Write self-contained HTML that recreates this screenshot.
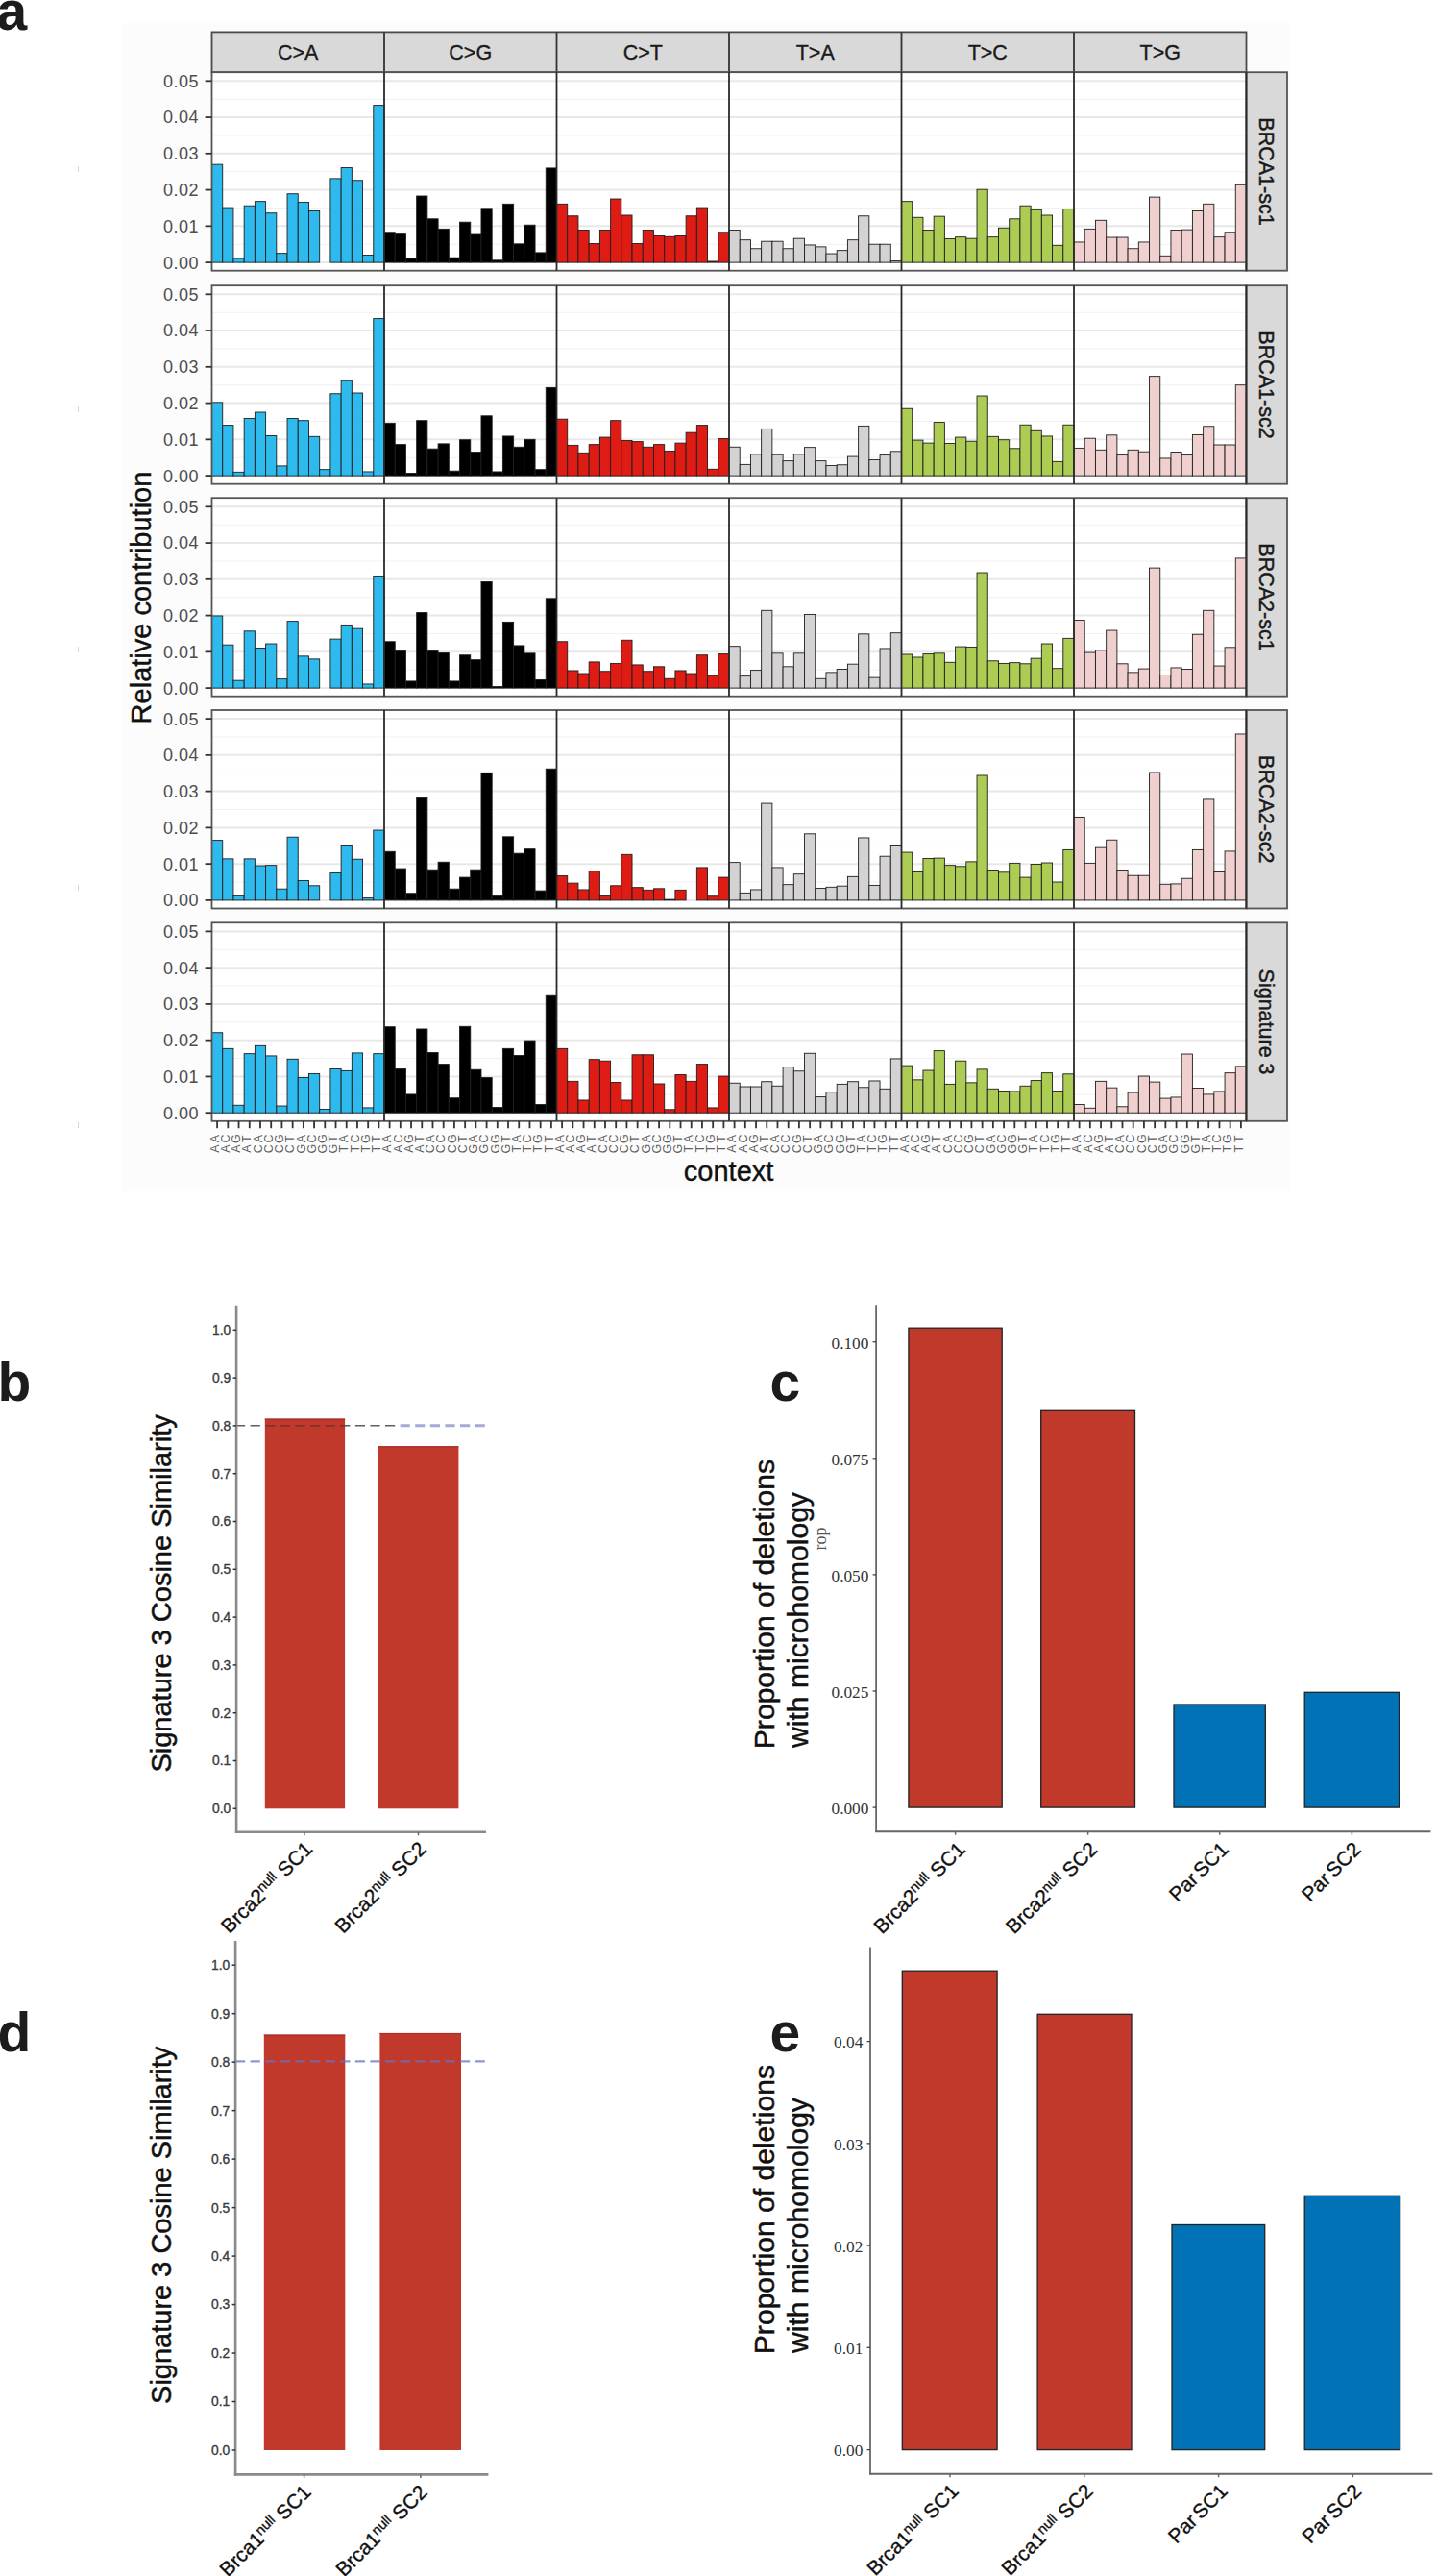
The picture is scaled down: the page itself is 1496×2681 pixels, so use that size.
<!DOCTYPE html>
<html><head><meta charset="utf-8"><title>Figure</title>
<style>
html,body{margin:0;padding:0;background:#fff;}
body{width:1496px;height:2681px;overflow:hidden;font-family:"Liberation Sans",sans-serif;}
svg{display:block;}
</style></head>
<body>
<svg width="1496" height="2681" viewBox="0 0 1496 2681">
<rect x="0" y="0" width="1496" height="2681" fill="#ffffff"/>
<rect x="127.8" y="24" width="1215" height="1216" fill="#fcfcfc"/>
<line x1="81.5" y1="173" x2="81.5" y2="179" stroke="#d4d4d4" stroke-width="1"/>
<line x1="81.5" y1="423" x2="81.5" y2="429" stroke="#d4d4d4" stroke-width="1"/>
<line x1="81.5" y1="673" x2="81.5" y2="679" stroke="#d4d4d4" stroke-width="1"/>
<line x1="81.5" y1="921" x2="81.5" y2="927" stroke="#d4d4d4" stroke-width="1"/>
<line x1="81.5" y1="1168" x2="81.5" y2="1174" stroke="#d4d4d4" stroke-width="1"/>
<text x="-3.5" y="30.6" font-family="Liberation Sans" font-weight="bold" font-size="57" fill="#1c1c1c">a</text>
<rect x="220.5" y="33.4" width="1077" height="41.8" fill="#d9d9d9" stroke="#4a4a4a" stroke-width="1.8"/>
<text x="310.25" y="61.6" text-anchor="middle" font-family="Liberation Sans" font-size="21.5" fill="#1a1a1a" stroke="#1a1a1a" stroke-width="0.35">C&gt;A</text>
<text x="489.75" y="61.6" text-anchor="middle" font-family="Liberation Sans" font-size="21.5" fill="#1a1a1a" stroke="#1a1a1a" stroke-width="0.35">C&gt;G</text>
<line x1="400" y1="33.4" x2="400" y2="75.2" stroke="#333" stroke-width="1.8"/>
<text x="669.25" y="61.6" text-anchor="middle" font-family="Liberation Sans" font-size="21.5" fill="#1a1a1a" stroke="#1a1a1a" stroke-width="0.35">C&gt;T</text>
<line x1="579.5" y1="33.4" x2="579.5" y2="75.2" stroke="#333" stroke-width="1.8"/>
<text x="848.75" y="61.6" text-anchor="middle" font-family="Liberation Sans" font-size="21.5" fill="#1a1a1a" stroke="#1a1a1a" stroke-width="0.35">T&gt;A</text>
<line x1="759" y1="33.4" x2="759" y2="75.2" stroke="#333" stroke-width="1.8"/>
<text x="1028.25" y="61.6" text-anchor="middle" font-family="Liberation Sans" font-size="21.5" fill="#1a1a1a" stroke="#1a1a1a" stroke-width="0.35">T&gt;C</text>
<line x1="938.5" y1="33.4" x2="938.5" y2="75.2" stroke="#333" stroke-width="1.8"/>
<text x="1207.75" y="61.6" text-anchor="middle" font-family="Liberation Sans" font-size="21.5" fill="#1a1a1a" stroke="#1a1a1a" stroke-width="0.35">T&gt;G</text>
<line x1="1118" y1="33.4" x2="1118" y2="75.2" stroke="#333" stroke-width="1.8"/>
<rect x="220.5" y="75.2" width="1077" height="206.5" fill="#ffffff"/>
<line x1="220.5" y1="273.1" x2="1297.5" y2="273.1" stroke="#e8e8e8" stroke-width="2"/>
<line x1="220.5" y1="254.22" x2="1297.5" y2="254.22" stroke="#f1f1f1" stroke-width="1.1"/>
<line x1="220.5" y1="235.34" x2="1297.5" y2="235.34" stroke="#e8e8e8" stroke-width="2"/>
<line x1="220.5" y1="216.46" x2="1297.5" y2="216.46" stroke="#f1f1f1" stroke-width="1.1"/>
<line x1="220.5" y1="197.58" x2="1297.5" y2="197.58" stroke="#e8e8e8" stroke-width="2"/>
<line x1="220.5" y1="178.7" x2="1297.5" y2="178.7" stroke="#f1f1f1" stroke-width="1.1"/>
<line x1="220.5" y1="159.82" x2="1297.5" y2="159.82" stroke="#e8e8e8" stroke-width="2"/>
<line x1="220.5" y1="140.94" x2="1297.5" y2="140.94" stroke="#f1f1f1" stroke-width="1.1"/>
<line x1="220.5" y1="122.06" x2="1297.5" y2="122.06" stroke="#e8e8e8" stroke-width="2"/>
<line x1="220.5" y1="103.18" x2="1297.5" y2="103.18" stroke="#f1f1f1" stroke-width="1.1"/>
<line x1="220.5" y1="84.3" x2="1297.5" y2="84.3" stroke="#e8e8e8" stroke-width="2"/>
<rect x="220.5" y="171.15" width="11.22" height="101.95" fill="#2EBAED" stroke="#1e1e1e" stroke-width="0.9"/>
<rect x="231.72" y="216.08" width="11.22" height="57.02" fill="#2EBAED" stroke="#1e1e1e" stroke-width="0.9"/>
<rect x="242.94" y="268.95" width="11.22" height="4.15" fill="#2EBAED" stroke="#1e1e1e" stroke-width="0.9"/>
<rect x="254.16" y="214.19" width="11.22" height="58.91" fill="#2EBAED" stroke="#1e1e1e" stroke-width="0.9"/>
<rect x="265.38" y="209.66" width="11.22" height="63.44" fill="#2EBAED" stroke="#1e1e1e" stroke-width="0.9"/>
<rect x="276.59" y="221.75" width="11.22" height="51.35" fill="#2EBAED" stroke="#1e1e1e" stroke-width="0.9"/>
<rect x="287.81" y="263.66" width="11.22" height="9.44" fill="#2EBAED" stroke="#1e1e1e" stroke-width="0.9"/>
<rect x="299.03" y="201.73" width="11.22" height="71.37" fill="#2EBAED" stroke="#1e1e1e" stroke-width="0.9"/>
<rect x="310.25" y="210.42" width="11.22" height="62.68" fill="#2EBAED" stroke="#1e1e1e" stroke-width="0.9"/>
<rect x="321.47" y="219.48" width="11.22" height="53.62" fill="#2EBAED" stroke="#1e1e1e" stroke-width="0.9"/>
<rect x="343.91" y="185.87" width="11.22" height="87.23" fill="#2EBAED" stroke="#1e1e1e" stroke-width="0.9"/>
<rect x="355.12" y="174.55" width="11.22" height="98.55" fill="#2EBAED" stroke="#1e1e1e" stroke-width="0.9"/>
<rect x="366.34" y="187.76" width="11.22" height="85.34" fill="#2EBAED" stroke="#1e1e1e" stroke-width="0.9"/>
<rect x="377.56" y="265.55" width="11.22" height="7.55" fill="#2EBAED" stroke="#1e1e1e" stroke-width="0.9"/>
<rect x="388.78" y="109.6" width="11.22" height="163.5" fill="#2EBAED" stroke="#1e1e1e" stroke-width="0.9"/>
<rect x="400" y="241.76" width="11.22" height="31.34" fill="#000000" stroke="#1e1e1e" stroke-width="0.9"/>
<rect x="411.22" y="243.65" width="11.22" height="29.45" fill="#000000" stroke="#1e1e1e" stroke-width="0.9"/>
<rect x="422.44" y="268.95" width="11.22" height="4.15" fill="#000000" stroke="#1e1e1e" stroke-width="0.9"/>
<rect x="433.66" y="204" width="11.22" height="69.1" fill="#000000" stroke="#1e1e1e" stroke-width="0.9"/>
<rect x="444.88" y="227.79" width="11.22" height="45.31" fill="#000000" stroke="#1e1e1e" stroke-width="0.9"/>
<rect x="456.09" y="238.36" width="11.22" height="34.74" fill="#000000" stroke="#1e1e1e" stroke-width="0.9"/>
<rect x="467.31" y="268.19" width="11.22" height="4.91" fill="#000000" stroke="#1e1e1e" stroke-width="0.9"/>
<rect x="478.53" y="231.19" width="11.22" height="41.91" fill="#000000" stroke="#1e1e1e" stroke-width="0.9"/>
<rect x="489.75" y="244.02" width="11.22" height="29.08" fill="#000000" stroke="#1e1e1e" stroke-width="0.9"/>
<rect x="500.97" y="216.84" width="11.22" height="56.26" fill="#000000" stroke="#1e1e1e" stroke-width="0.9"/>
<rect x="512.19" y="270.83" width="11.22" height="2.27" fill="#000000" stroke="#1e1e1e" stroke-width="0.9"/>
<rect x="523.41" y="212.31" width="11.22" height="60.79" fill="#000000" stroke="#1e1e1e" stroke-width="0.9"/>
<rect x="534.62" y="253.84" width="11.22" height="19.26" fill="#000000" stroke="#1e1e1e" stroke-width="0.9"/>
<rect x="545.84" y="234.21" width="11.22" height="38.89" fill="#000000" stroke="#1e1e1e" stroke-width="0.9"/>
<rect x="557.06" y="262.9" width="11.22" height="10.2" fill="#000000" stroke="#1e1e1e" stroke-width="0.9"/>
<rect x="568.28" y="174.92" width="11.22" height="98.18" fill="#000000" stroke="#1e1e1e" stroke-width="0.9"/>
<rect x="579.5" y="212.31" width="11.22" height="60.79" fill="#DE1C14" stroke="#1e1e1e" stroke-width="0.9"/>
<rect x="590.72" y="224.77" width="11.22" height="48.33" fill="#DE1C14" stroke="#1e1e1e" stroke-width="0.9"/>
<rect x="601.94" y="239.49" width="11.22" height="33.61" fill="#DE1C14" stroke="#1e1e1e" stroke-width="0.9"/>
<rect x="613.16" y="253.46" width="11.22" height="19.64" fill="#DE1C14" stroke="#1e1e1e" stroke-width="0.9"/>
<rect x="624.38" y="239.49" width="11.22" height="33.61" fill="#DE1C14" stroke="#1e1e1e" stroke-width="0.9"/>
<rect x="635.59" y="207.02" width="11.22" height="66.08" fill="#DE1C14" stroke="#1e1e1e" stroke-width="0.9"/>
<rect x="646.81" y="224.01" width="11.22" height="49.09" fill="#DE1C14" stroke="#1e1e1e" stroke-width="0.9"/>
<rect x="658.03" y="253.46" width="11.22" height="19.64" fill="#DE1C14" stroke="#1e1e1e" stroke-width="0.9"/>
<rect x="669.25" y="239.49" width="11.22" height="33.61" fill="#DE1C14" stroke="#1e1e1e" stroke-width="0.9"/>
<rect x="680.47" y="245.54" width="11.22" height="27.56" fill="#DE1C14" stroke="#1e1e1e" stroke-width="0.9"/>
<rect x="691.69" y="246.29" width="11.22" height="26.81" fill="#DE1C14" stroke="#1e1e1e" stroke-width="0.9"/>
<rect x="702.91" y="245.54" width="11.22" height="27.56" fill="#DE1C14" stroke="#1e1e1e" stroke-width="0.9"/>
<rect x="714.12" y="224.77" width="11.22" height="48.33" fill="#DE1C14" stroke="#1e1e1e" stroke-width="0.9"/>
<rect x="725.34" y="216.08" width="11.22" height="57.02" fill="#DE1C14" stroke="#1e1e1e" stroke-width="0.9"/>
<rect x="736.56" y="271.97" width="11.22" height="1.13" fill="#DE1C14" stroke="#1e1e1e" stroke-width="0.9"/>
<rect x="747.78" y="241.76" width="11.22" height="31.34" fill="#DE1C14" stroke="#1e1e1e" stroke-width="0.9"/>
<rect x="759" y="239.49" width="11.22" height="33.61" fill="#D4D2D2" stroke="#1e1e1e" stroke-width="0.9"/>
<rect x="770.22" y="249.69" width="11.22" height="23.41" fill="#D4D2D2" stroke="#1e1e1e" stroke-width="0.9"/>
<rect x="781.44" y="258.75" width="11.22" height="14.35" fill="#D4D2D2" stroke="#1e1e1e" stroke-width="0.9"/>
<rect x="792.66" y="251.2" width="11.22" height="21.9" fill="#D4D2D2" stroke="#1e1e1e" stroke-width="0.9"/>
<rect x="803.88" y="251.2" width="11.22" height="21.9" fill="#D4D2D2" stroke="#1e1e1e" stroke-width="0.9"/>
<rect x="815.09" y="258.75" width="11.22" height="14.35" fill="#D4D2D2" stroke="#1e1e1e" stroke-width="0.9"/>
<rect x="826.31" y="248.18" width="11.22" height="24.92" fill="#D4D2D2" stroke="#1e1e1e" stroke-width="0.9"/>
<rect x="837.53" y="254.98" width="11.22" height="18.12" fill="#D4D2D2" stroke="#1e1e1e" stroke-width="0.9"/>
<rect x="848.75" y="256.86" width="11.22" height="16.24" fill="#D4D2D2" stroke="#1e1e1e" stroke-width="0.9"/>
<rect x="859.97" y="264.04" width="11.22" height="9.06" fill="#D4D2D2" stroke="#1e1e1e" stroke-width="0.9"/>
<rect x="871.19" y="260.64" width="11.22" height="12.46" fill="#D4D2D2" stroke="#1e1e1e" stroke-width="0.9"/>
<rect x="882.41" y="249.69" width="11.22" height="23.41" fill="#D4D2D2" stroke="#1e1e1e" stroke-width="0.9"/>
<rect x="893.62" y="224.77" width="11.22" height="48.33" fill="#D4D2D2" stroke="#1e1e1e" stroke-width="0.9"/>
<rect x="904.84" y="254.22" width="11.22" height="18.88" fill="#D4D2D2" stroke="#1e1e1e" stroke-width="0.9"/>
<rect x="916.06" y="254.22" width="11.22" height="18.88" fill="#D4D2D2" stroke="#1e1e1e" stroke-width="0.9"/>
<rect x="927.28" y="271.59" width="11.22" height="1.51" fill="#D4D2D2" stroke="#1e1e1e" stroke-width="0.9"/>
<rect x="938.5" y="209.66" width="11.22" height="63.44" fill="#ADCC54" stroke="#1e1e1e" stroke-width="0.9"/>
<rect x="949.72" y="226.28" width="11.22" height="46.82" fill="#ADCC54" stroke="#1e1e1e" stroke-width="0.9"/>
<rect x="960.94" y="239.49" width="11.22" height="33.61" fill="#ADCC54" stroke="#1e1e1e" stroke-width="0.9"/>
<rect x="972.16" y="225.14" width="11.22" height="47.96" fill="#ADCC54" stroke="#1e1e1e" stroke-width="0.9"/>
<rect x="983.38" y="248.56" width="11.22" height="24.54" fill="#ADCC54" stroke="#1e1e1e" stroke-width="0.9"/>
<rect x="994.59" y="246.67" width="11.22" height="26.43" fill="#ADCC54" stroke="#1e1e1e" stroke-width="0.9"/>
<rect x="1005.81" y="248.18" width="11.22" height="24.92" fill="#ADCC54" stroke="#1e1e1e" stroke-width="0.9"/>
<rect x="1017.03" y="197.2" width="11.22" height="75.9" fill="#ADCC54" stroke="#1e1e1e" stroke-width="0.9"/>
<rect x="1028.25" y="246.67" width="11.22" height="26.43" fill="#ADCC54" stroke="#1e1e1e" stroke-width="0.9"/>
<rect x="1039.47" y="237.23" width="11.22" height="35.87" fill="#ADCC54" stroke="#1e1e1e" stroke-width="0.9"/>
<rect x="1050.69" y="227.79" width="11.22" height="45.31" fill="#ADCC54" stroke="#1e1e1e" stroke-width="0.9"/>
<rect x="1061.91" y="214.19" width="11.22" height="58.91" fill="#ADCC54" stroke="#1e1e1e" stroke-width="0.9"/>
<rect x="1073.12" y="218.35" width="11.22" height="54.75" fill="#ADCC54" stroke="#1e1e1e" stroke-width="0.9"/>
<rect x="1084.34" y="224.01" width="11.22" height="49.09" fill="#ADCC54" stroke="#1e1e1e" stroke-width="0.9"/>
<rect x="1095.56" y="255.35" width="11.22" height="17.75" fill="#ADCC54" stroke="#1e1e1e" stroke-width="0.9"/>
<rect x="1106.78" y="217.59" width="11.22" height="55.51" fill="#ADCC54" stroke="#1e1e1e" stroke-width="0.9"/>
<rect x="1118" y="251.95" width="11.22" height="21.15" fill="#F0D0CE" stroke="#1e1e1e" stroke-width="0.9"/>
<rect x="1129.22" y="238.36" width="11.22" height="34.74" fill="#F0D0CE" stroke="#1e1e1e" stroke-width="0.9"/>
<rect x="1140.44" y="229.3" width="11.22" height="43.8" fill="#F0D0CE" stroke="#1e1e1e" stroke-width="0.9"/>
<rect x="1151.66" y="247.05" width="11.22" height="26.05" fill="#F0D0CE" stroke="#1e1e1e" stroke-width="0.9"/>
<rect x="1162.88" y="247.05" width="11.22" height="26.05" fill="#F0D0CE" stroke="#1e1e1e" stroke-width="0.9"/>
<rect x="1174.09" y="258.75" width="11.22" height="14.35" fill="#F0D0CE" stroke="#1e1e1e" stroke-width="0.9"/>
<rect x="1185.31" y="251.95" width="11.22" height="21.15" fill="#F0D0CE" stroke="#1e1e1e" stroke-width="0.9"/>
<rect x="1196.53" y="205.13" width="11.22" height="67.97" fill="#F0D0CE" stroke="#1e1e1e" stroke-width="0.9"/>
<rect x="1207.75" y="266.3" width="11.22" height="6.8" fill="#F0D0CE" stroke="#1e1e1e" stroke-width="0.9"/>
<rect x="1218.97" y="239.49" width="11.22" height="33.61" fill="#F0D0CE" stroke="#1e1e1e" stroke-width="0.9"/>
<rect x="1230.19" y="239.12" width="11.22" height="33.98" fill="#F0D0CE" stroke="#1e1e1e" stroke-width="0.9"/>
<rect x="1241.41" y="219.48" width="11.22" height="53.62" fill="#F0D0CE" stroke="#1e1e1e" stroke-width="0.9"/>
<rect x="1252.62" y="212.31" width="11.22" height="60.79" fill="#F0D0CE" stroke="#1e1e1e" stroke-width="0.9"/>
<rect x="1263.84" y="246.67" width="11.22" height="26.43" fill="#F0D0CE" stroke="#1e1e1e" stroke-width="0.9"/>
<rect x="1275.06" y="241.76" width="11.22" height="31.34" fill="#F0D0CE" stroke="#1e1e1e" stroke-width="0.9"/>
<rect x="1286.28" y="192.29" width="11.22" height="80.81" fill="#F0D0CE" stroke="#1e1e1e" stroke-width="0.9"/>
<rect x="220.5" y="75.2" width="1077" height="206.5" fill="none" stroke="#555" stroke-width="1.8"/>
<line x1="400" y1="75.2" x2="400" y2="281.7" stroke="#2a2a2a" stroke-width="1.8"/>
<line x1="579.5" y1="75.2" x2="579.5" y2="281.7" stroke="#2a2a2a" stroke-width="1.8"/>
<line x1="759" y1="75.2" x2="759" y2="281.7" stroke="#2a2a2a" stroke-width="1.8"/>
<line x1="938.5" y1="75.2" x2="938.5" y2="281.7" stroke="#2a2a2a" stroke-width="1.8"/>
<line x1="1118" y1="75.2" x2="1118" y2="281.7" stroke="#2a2a2a" stroke-width="1.8"/>
<rect x="1297.5" y="75.2" width="42.5" height="206.5" fill="#d9d9d9" stroke="#555" stroke-width="1.8"/>
<line x1="1297.5" y1="75.2" x2="1297.5" y2="281.7" stroke="#2a2a2a" stroke-width="1.8"/>
<text transform="translate(1311.2,178.45) rotate(90)" text-anchor="middle" font-family="Liberation Sans" font-size="21.5" fill="#1a1a1a" stroke="#1a1a1a" stroke-width="0.45">BRCA1-sc1</text>
<line x1="213.6" y1="273.1" x2="220.5" y2="273.1" stroke="#333" stroke-width="1.8"/>
<text x="207" y="279.5" text-anchor="end" font-family="Liberation Sans" font-size="18" letter-spacing="0.5" fill="#4d4d4d">0.00</text>
<line x1="213.6" y1="235.34" x2="220.5" y2="235.34" stroke="#333" stroke-width="1.8"/>
<text x="207" y="241.74" text-anchor="end" font-family="Liberation Sans" font-size="18" letter-spacing="0.5" fill="#4d4d4d">0.01</text>
<line x1="213.6" y1="197.58" x2="220.5" y2="197.58" stroke="#333" stroke-width="1.8"/>
<text x="207" y="203.98" text-anchor="end" font-family="Liberation Sans" font-size="18" letter-spacing="0.5" fill="#4d4d4d">0.02</text>
<line x1="213.6" y1="159.82" x2="220.5" y2="159.82" stroke="#333" stroke-width="1.8"/>
<text x="207" y="166.22" text-anchor="end" font-family="Liberation Sans" font-size="18" letter-spacing="0.5" fill="#4d4d4d">0.03</text>
<line x1="213.6" y1="122.06" x2="220.5" y2="122.06" stroke="#333" stroke-width="1.8"/>
<text x="207" y="128.46" text-anchor="end" font-family="Liberation Sans" font-size="18" letter-spacing="0.5" fill="#4d4d4d">0.04</text>
<line x1="213.6" y1="84.3" x2="220.5" y2="84.3" stroke="#333" stroke-width="1.8"/>
<text x="207" y="90.7" text-anchor="end" font-family="Liberation Sans" font-size="18" letter-spacing="0.5" fill="#4d4d4d">0.05</text>
<rect x="220.5" y="297.2" width="1077" height="206.5" fill="#ffffff"/>
<line x1="220.5" y1="495.1" x2="1297.5" y2="495.1" stroke="#e8e8e8" stroke-width="2"/>
<line x1="220.5" y1="476.22" x2="1297.5" y2="476.22" stroke="#f1f1f1" stroke-width="1.1"/>
<line x1="220.5" y1="457.34" x2="1297.5" y2="457.34" stroke="#e8e8e8" stroke-width="2"/>
<line x1="220.5" y1="438.46" x2="1297.5" y2="438.46" stroke="#f1f1f1" stroke-width="1.1"/>
<line x1="220.5" y1="419.58" x2="1297.5" y2="419.58" stroke="#e8e8e8" stroke-width="2"/>
<line x1="220.5" y1="400.7" x2="1297.5" y2="400.7" stroke="#f1f1f1" stroke-width="1.1"/>
<line x1="220.5" y1="381.82" x2="1297.5" y2="381.82" stroke="#e8e8e8" stroke-width="2"/>
<line x1="220.5" y1="362.94" x2="1297.5" y2="362.94" stroke="#f1f1f1" stroke-width="1.1"/>
<line x1="220.5" y1="344.06" x2="1297.5" y2="344.06" stroke="#e8e8e8" stroke-width="2"/>
<line x1="220.5" y1="325.18" x2="1297.5" y2="325.18" stroke="#f1f1f1" stroke-width="1.1"/>
<line x1="220.5" y1="306.3" x2="1297.5" y2="306.3" stroke="#e8e8e8" stroke-width="2"/>
<rect x="220.5" y="418.82" width="11.22" height="76.28" fill="#2EBAED" stroke="#1e1e1e" stroke-width="0.9"/>
<rect x="231.72" y="442.61" width="11.22" height="52.49" fill="#2EBAED" stroke="#1e1e1e" stroke-width="0.9"/>
<rect x="242.94" y="491.32" width="11.22" height="3.78" fill="#2EBAED" stroke="#1e1e1e" stroke-width="0.9"/>
<rect x="254.16" y="435.44" width="11.22" height="59.66" fill="#2EBAED" stroke="#1e1e1e" stroke-width="0.9"/>
<rect x="265.38" y="429.02" width="11.22" height="66.08" fill="#2EBAED" stroke="#1e1e1e" stroke-width="0.9"/>
<rect x="276.59" y="453.56" width="11.22" height="41.54" fill="#2EBAED" stroke="#1e1e1e" stroke-width="0.9"/>
<rect x="287.81" y="484.9" width="11.22" height="10.2" fill="#2EBAED" stroke="#1e1e1e" stroke-width="0.9"/>
<rect x="299.03" y="435.44" width="11.22" height="59.66" fill="#2EBAED" stroke="#1e1e1e" stroke-width="0.9"/>
<rect x="310.25" y="437.7" width="11.22" height="57.4" fill="#2EBAED" stroke="#1e1e1e" stroke-width="0.9"/>
<rect x="321.47" y="454.32" width="11.22" height="40.78" fill="#2EBAED" stroke="#1e1e1e" stroke-width="0.9"/>
<rect x="332.69" y="488.68" width="11.22" height="6.42" fill="#2EBAED" stroke="#1e1e1e" stroke-width="0.9"/>
<rect x="343.91" y="409.76" width="11.22" height="85.34" fill="#2EBAED" stroke="#1e1e1e" stroke-width="0.9"/>
<rect x="355.12" y="396.17" width="11.22" height="98.93" fill="#2EBAED" stroke="#1e1e1e" stroke-width="0.9"/>
<rect x="366.34" y="409.01" width="11.22" height="86.09" fill="#2EBAED" stroke="#1e1e1e" stroke-width="0.9"/>
<rect x="377.56" y="490.95" width="11.22" height="4.15" fill="#2EBAED" stroke="#1e1e1e" stroke-width="0.9"/>
<rect x="388.78" y="331.6" width="11.22" height="163.5" fill="#2EBAED" stroke="#1e1e1e" stroke-width="0.9"/>
<rect x="400" y="440.35" width="11.22" height="54.75" fill="#000000" stroke="#1e1e1e" stroke-width="0.9"/>
<rect x="411.22" y="462.63" width="11.22" height="32.47" fill="#000000" stroke="#1e1e1e" stroke-width="0.9"/>
<rect x="422.44" y="492.46" width="11.22" height="2.64" fill="#000000" stroke="#1e1e1e" stroke-width="0.9"/>
<rect x="433.66" y="437.7" width="11.22" height="57.4" fill="#000000" stroke="#1e1e1e" stroke-width="0.9"/>
<rect x="444.88" y="467.16" width="11.22" height="27.94" fill="#000000" stroke="#1e1e1e" stroke-width="0.9"/>
<rect x="456.09" y="461.87" width="11.22" height="33.23" fill="#000000" stroke="#1e1e1e" stroke-width="0.9"/>
<rect x="467.31" y="490.19" width="11.22" height="4.91" fill="#000000" stroke="#1e1e1e" stroke-width="0.9"/>
<rect x="478.53" y="457.72" width="11.22" height="37.38" fill="#000000" stroke="#1e1e1e" stroke-width="0.9"/>
<rect x="489.75" y="470.56" width="11.22" height="24.54" fill="#000000" stroke="#1e1e1e" stroke-width="0.9"/>
<rect x="500.97" y="432.8" width="11.22" height="62.3" fill="#000000" stroke="#1e1e1e" stroke-width="0.9"/>
<rect x="512.19" y="490.95" width="11.22" height="4.15" fill="#000000" stroke="#1e1e1e" stroke-width="0.9"/>
<rect x="523.41" y="453.94" width="11.22" height="41.16" fill="#000000" stroke="#1e1e1e" stroke-width="0.9"/>
<rect x="534.62" y="465.27" width="11.22" height="29.83" fill="#000000" stroke="#1e1e1e" stroke-width="0.9"/>
<rect x="545.84" y="457.34" width="11.22" height="37.76" fill="#000000" stroke="#1e1e1e" stroke-width="0.9"/>
<rect x="557.06" y="488.68" width="11.22" height="6.42" fill="#000000" stroke="#1e1e1e" stroke-width="0.9"/>
<rect x="568.28" y="403.34" width="11.22" height="91.76" fill="#000000" stroke="#1e1e1e" stroke-width="0.9"/>
<rect x="579.5" y="436.19" width="11.22" height="58.91" fill="#DE1C14" stroke="#1e1e1e" stroke-width="0.9"/>
<rect x="590.72" y="463.38" width="11.22" height="31.72" fill="#DE1C14" stroke="#1e1e1e" stroke-width="0.9"/>
<rect x="601.94" y="471.31" width="11.22" height="23.79" fill="#DE1C14" stroke="#1e1e1e" stroke-width="0.9"/>
<rect x="613.16" y="462.63" width="11.22" height="32.47" fill="#DE1C14" stroke="#1e1e1e" stroke-width="0.9"/>
<rect x="624.38" y="455.07" width="11.22" height="40.03" fill="#DE1C14" stroke="#1e1e1e" stroke-width="0.9"/>
<rect x="635.59" y="437.7" width="11.22" height="57.4" fill="#DE1C14" stroke="#1e1e1e" stroke-width="0.9"/>
<rect x="646.81" y="458.47" width="11.22" height="36.63" fill="#DE1C14" stroke="#1e1e1e" stroke-width="0.9"/>
<rect x="658.03" y="459.61" width="11.22" height="35.49" fill="#DE1C14" stroke="#1e1e1e" stroke-width="0.9"/>
<rect x="669.25" y="465.27" width="11.22" height="29.83" fill="#DE1C14" stroke="#1e1e1e" stroke-width="0.9"/>
<rect x="680.47" y="462.63" width="11.22" height="32.47" fill="#DE1C14" stroke="#1e1e1e" stroke-width="0.9"/>
<rect x="691.69" y="469.42" width="11.22" height="25.68" fill="#DE1C14" stroke="#1e1e1e" stroke-width="0.9"/>
<rect x="702.91" y="461.12" width="11.22" height="33.98" fill="#DE1C14" stroke="#1e1e1e" stroke-width="0.9"/>
<rect x="714.12" y="450.17" width="11.22" height="44.93" fill="#DE1C14" stroke="#1e1e1e" stroke-width="0.9"/>
<rect x="725.34" y="442.61" width="11.22" height="52.49" fill="#DE1C14" stroke="#1e1e1e" stroke-width="0.9"/>
<rect x="736.56" y="488.3" width="11.22" height="6.8" fill="#DE1C14" stroke="#1e1e1e" stroke-width="0.9"/>
<rect x="747.78" y="456.58" width="11.22" height="38.52" fill="#DE1C14" stroke="#1e1e1e" stroke-width="0.9"/>
<rect x="759" y="465.27" width="11.22" height="29.83" fill="#D4D2D2" stroke="#1e1e1e" stroke-width="0.9"/>
<rect x="770.22" y="483.39" width="11.22" height="11.71" fill="#D4D2D2" stroke="#1e1e1e" stroke-width="0.9"/>
<rect x="781.44" y="472.82" width="11.22" height="22.28" fill="#D4D2D2" stroke="#1e1e1e" stroke-width="0.9"/>
<rect x="792.66" y="446.39" width="11.22" height="48.71" fill="#D4D2D2" stroke="#1e1e1e" stroke-width="0.9"/>
<rect x="803.88" y="473.2" width="11.22" height="21.9" fill="#D4D2D2" stroke="#1e1e1e" stroke-width="0.9"/>
<rect x="815.09" y="479.62" width="11.22" height="15.48" fill="#D4D2D2" stroke="#1e1e1e" stroke-width="0.9"/>
<rect x="826.31" y="472.82" width="11.22" height="22.28" fill="#D4D2D2" stroke="#1e1e1e" stroke-width="0.9"/>
<rect x="837.53" y="465.65" width="11.22" height="29.45" fill="#D4D2D2" stroke="#1e1e1e" stroke-width="0.9"/>
<rect x="848.75" y="479.62" width="11.22" height="15.48" fill="#D4D2D2" stroke="#1e1e1e" stroke-width="0.9"/>
<rect x="859.97" y="484.53" width="11.22" height="10.57" fill="#D4D2D2" stroke="#1e1e1e" stroke-width="0.9"/>
<rect x="871.19" y="483.77" width="11.22" height="11.33" fill="#D4D2D2" stroke="#1e1e1e" stroke-width="0.9"/>
<rect x="882.41" y="475.09" width="11.22" height="20.01" fill="#D4D2D2" stroke="#1e1e1e" stroke-width="0.9"/>
<rect x="893.62" y="443.37" width="11.22" height="51.73" fill="#D4D2D2" stroke="#1e1e1e" stroke-width="0.9"/>
<rect x="904.84" y="478.49" width="11.22" height="16.61" fill="#D4D2D2" stroke="#1e1e1e" stroke-width="0.9"/>
<rect x="916.06" y="473.58" width="11.22" height="21.52" fill="#D4D2D2" stroke="#1e1e1e" stroke-width="0.9"/>
<rect x="927.28" y="469.8" width="11.22" height="25.3" fill="#D4D2D2" stroke="#1e1e1e" stroke-width="0.9"/>
<rect x="938.5" y="425.24" width="11.22" height="69.86" fill="#ADCC54" stroke="#1e1e1e" stroke-width="0.9"/>
<rect x="949.72" y="458.1" width="11.22" height="37" fill="#ADCC54" stroke="#1e1e1e" stroke-width="0.9"/>
<rect x="960.94" y="461.12" width="11.22" height="33.98" fill="#ADCC54" stroke="#1e1e1e" stroke-width="0.9"/>
<rect x="972.16" y="439.59" width="11.22" height="55.51" fill="#ADCC54" stroke="#1e1e1e" stroke-width="0.9"/>
<rect x="983.38" y="461.49" width="11.22" height="33.61" fill="#ADCC54" stroke="#1e1e1e" stroke-width="0.9"/>
<rect x="994.59" y="455.07" width="11.22" height="40.03" fill="#ADCC54" stroke="#1e1e1e" stroke-width="0.9"/>
<rect x="1005.81" y="459.23" width="11.22" height="35.87" fill="#ADCC54" stroke="#1e1e1e" stroke-width="0.9"/>
<rect x="1017.03" y="412.03" width="11.22" height="83.07" fill="#ADCC54" stroke="#1e1e1e" stroke-width="0.9"/>
<rect x="1028.25" y="454.32" width="11.22" height="40.78" fill="#ADCC54" stroke="#1e1e1e" stroke-width="0.9"/>
<rect x="1039.47" y="457.72" width="11.22" height="37.38" fill="#ADCC54" stroke="#1e1e1e" stroke-width="0.9"/>
<rect x="1050.69" y="466.78" width="11.22" height="28.32" fill="#ADCC54" stroke="#1e1e1e" stroke-width="0.9"/>
<rect x="1061.91" y="442.24" width="11.22" height="52.86" fill="#ADCC54" stroke="#1e1e1e" stroke-width="0.9"/>
<rect x="1073.12" y="448.28" width="11.22" height="46.82" fill="#ADCC54" stroke="#1e1e1e" stroke-width="0.9"/>
<rect x="1084.34" y="453.94" width="11.22" height="41.16" fill="#ADCC54" stroke="#1e1e1e" stroke-width="0.9"/>
<rect x="1095.56" y="480.37" width="11.22" height="14.73" fill="#ADCC54" stroke="#1e1e1e" stroke-width="0.9"/>
<rect x="1106.78" y="442.24" width="11.22" height="52.86" fill="#ADCC54" stroke="#1e1e1e" stroke-width="0.9"/>
<rect x="1118" y="466.4" width="11.22" height="28.7" fill="#F0D0CE" stroke="#1e1e1e" stroke-width="0.9"/>
<rect x="1129.22" y="456.21" width="11.22" height="38.89" fill="#F0D0CE" stroke="#1e1e1e" stroke-width="0.9"/>
<rect x="1140.44" y="468.29" width="11.22" height="26.81" fill="#F0D0CE" stroke="#1e1e1e" stroke-width="0.9"/>
<rect x="1151.66" y="452.81" width="11.22" height="42.29" fill="#F0D0CE" stroke="#1e1e1e" stroke-width="0.9"/>
<rect x="1162.88" y="473.58" width="11.22" height="21.52" fill="#F0D0CE" stroke="#1e1e1e" stroke-width="0.9"/>
<rect x="1174.09" y="468.29" width="11.22" height="26.81" fill="#F0D0CE" stroke="#1e1e1e" stroke-width="0.9"/>
<rect x="1185.31" y="470.18" width="11.22" height="24.92" fill="#F0D0CE" stroke="#1e1e1e" stroke-width="0.9"/>
<rect x="1196.53" y="391.64" width="11.22" height="103.46" fill="#F0D0CE" stroke="#1e1e1e" stroke-width="0.9"/>
<rect x="1207.75" y="476.98" width="11.22" height="18.12" fill="#F0D0CE" stroke="#1e1e1e" stroke-width="0.9"/>
<rect x="1218.97" y="470.56" width="11.22" height="24.54" fill="#F0D0CE" stroke="#1e1e1e" stroke-width="0.9"/>
<rect x="1230.19" y="473.58" width="11.22" height="21.52" fill="#F0D0CE" stroke="#1e1e1e" stroke-width="0.9"/>
<rect x="1241.41" y="452.43" width="11.22" height="42.67" fill="#F0D0CE" stroke="#1e1e1e" stroke-width="0.9"/>
<rect x="1252.62" y="443.75" width="11.22" height="51.35" fill="#F0D0CE" stroke="#1e1e1e" stroke-width="0.9"/>
<rect x="1263.84" y="463" width="11.22" height="32.1" fill="#F0D0CE" stroke="#1e1e1e" stroke-width="0.9"/>
<rect x="1275.06" y="463" width="11.22" height="32.1" fill="#F0D0CE" stroke="#1e1e1e" stroke-width="0.9"/>
<rect x="1286.28" y="400.7" width="11.22" height="94.4" fill="#F0D0CE" stroke="#1e1e1e" stroke-width="0.9"/>
<rect x="220.5" y="297.2" width="1077" height="206.5" fill="none" stroke="#555" stroke-width="1.8"/>
<line x1="400" y1="297.2" x2="400" y2="503.7" stroke="#2a2a2a" stroke-width="1.8"/>
<line x1="579.5" y1="297.2" x2="579.5" y2="503.7" stroke="#2a2a2a" stroke-width="1.8"/>
<line x1="759" y1="297.2" x2="759" y2="503.7" stroke="#2a2a2a" stroke-width="1.8"/>
<line x1="938.5" y1="297.2" x2="938.5" y2="503.7" stroke="#2a2a2a" stroke-width="1.8"/>
<line x1="1118" y1="297.2" x2="1118" y2="503.7" stroke="#2a2a2a" stroke-width="1.8"/>
<rect x="1297.5" y="297.2" width="42.5" height="206.5" fill="#d9d9d9" stroke="#555" stroke-width="1.8"/>
<line x1="1297.5" y1="297.2" x2="1297.5" y2="503.7" stroke="#2a2a2a" stroke-width="1.8"/>
<text transform="translate(1311.2,400.45) rotate(90)" text-anchor="middle" font-family="Liberation Sans" font-size="21.5" fill="#1a1a1a" stroke="#1a1a1a" stroke-width="0.45">BRCA1-sc2</text>
<line x1="213.6" y1="495.1" x2="220.5" y2="495.1" stroke="#333" stroke-width="1.8"/>
<text x="207" y="501.5" text-anchor="end" font-family="Liberation Sans" font-size="18" letter-spacing="0.5" fill="#4d4d4d">0.00</text>
<line x1="213.6" y1="457.34" x2="220.5" y2="457.34" stroke="#333" stroke-width="1.8"/>
<text x="207" y="463.74" text-anchor="end" font-family="Liberation Sans" font-size="18" letter-spacing="0.5" fill="#4d4d4d">0.01</text>
<line x1="213.6" y1="419.58" x2="220.5" y2="419.58" stroke="#333" stroke-width="1.8"/>
<text x="207" y="425.98" text-anchor="end" font-family="Liberation Sans" font-size="18" letter-spacing="0.5" fill="#4d4d4d">0.02</text>
<line x1="213.6" y1="381.82" x2="220.5" y2="381.82" stroke="#333" stroke-width="1.8"/>
<text x="207" y="388.22" text-anchor="end" font-family="Liberation Sans" font-size="18" letter-spacing="0.5" fill="#4d4d4d">0.03</text>
<line x1="213.6" y1="344.06" x2="220.5" y2="344.06" stroke="#333" stroke-width="1.8"/>
<text x="207" y="350.46" text-anchor="end" font-family="Liberation Sans" font-size="18" letter-spacing="0.5" fill="#4d4d4d">0.04</text>
<line x1="213.6" y1="306.3" x2="220.5" y2="306.3" stroke="#333" stroke-width="1.8"/>
<text x="207" y="312.7" text-anchor="end" font-family="Liberation Sans" font-size="18" letter-spacing="0.5" fill="#4d4d4d">0.05</text>
<rect x="220.5" y="518.2" width="1077" height="206.5" fill="#ffffff"/>
<line x1="220.5" y1="716.1" x2="1297.5" y2="716.1" stroke="#e8e8e8" stroke-width="2"/>
<line x1="220.5" y1="697.22" x2="1297.5" y2="697.22" stroke="#f1f1f1" stroke-width="1.1"/>
<line x1="220.5" y1="678.34" x2="1297.5" y2="678.34" stroke="#e8e8e8" stroke-width="2"/>
<line x1="220.5" y1="659.46" x2="1297.5" y2="659.46" stroke="#f1f1f1" stroke-width="1.1"/>
<line x1="220.5" y1="640.58" x2="1297.5" y2="640.58" stroke="#e8e8e8" stroke-width="2"/>
<line x1="220.5" y1="621.7" x2="1297.5" y2="621.7" stroke="#f1f1f1" stroke-width="1.1"/>
<line x1="220.5" y1="602.82" x2="1297.5" y2="602.82" stroke="#e8e8e8" stroke-width="2"/>
<line x1="220.5" y1="583.94" x2="1297.5" y2="583.94" stroke="#f1f1f1" stroke-width="1.1"/>
<line x1="220.5" y1="565.06" x2="1297.5" y2="565.06" stroke="#e8e8e8" stroke-width="2"/>
<line x1="220.5" y1="546.18" x2="1297.5" y2="546.18" stroke="#f1f1f1" stroke-width="1.1"/>
<line x1="220.5" y1="527.3" x2="1297.5" y2="527.3" stroke="#e8e8e8" stroke-width="2"/>
<rect x="220.5" y="640.96" width="11.22" height="75.14" fill="#2EBAED" stroke="#1e1e1e" stroke-width="0.9"/>
<rect x="231.72" y="671.17" width="11.22" height="44.93" fill="#2EBAED" stroke="#1e1e1e" stroke-width="0.9"/>
<rect x="242.94" y="708.17" width="11.22" height="7.93" fill="#2EBAED" stroke="#1e1e1e" stroke-width="0.9"/>
<rect x="254.16" y="656.82" width="11.22" height="59.28" fill="#2EBAED" stroke="#1e1e1e" stroke-width="0.9"/>
<rect x="265.38" y="674.56" width="11.22" height="41.54" fill="#2EBAED" stroke="#1e1e1e" stroke-width="0.9"/>
<rect x="276.59" y="670.03" width="11.22" height="46.07" fill="#2EBAED" stroke="#1e1e1e" stroke-width="0.9"/>
<rect x="287.81" y="706.66" width="11.22" height="9.44" fill="#2EBAED" stroke="#1e1e1e" stroke-width="0.9"/>
<rect x="299.03" y="646.62" width="11.22" height="69.48" fill="#2EBAED" stroke="#1e1e1e" stroke-width="0.9"/>
<rect x="310.25" y="682.87" width="11.22" height="33.23" fill="#2EBAED" stroke="#1e1e1e" stroke-width="0.9"/>
<rect x="321.47" y="685.89" width="11.22" height="30.21" fill="#2EBAED" stroke="#1e1e1e" stroke-width="0.9"/>
<rect x="343.91" y="665.12" width="11.22" height="50.98" fill="#2EBAED" stroke="#1e1e1e" stroke-width="0.9"/>
<rect x="355.12" y="650.4" width="11.22" height="65.7" fill="#2EBAED" stroke="#1e1e1e" stroke-width="0.9"/>
<rect x="366.34" y="654.17" width="11.22" height="61.93" fill="#2EBAED" stroke="#1e1e1e" stroke-width="0.9"/>
<rect x="377.56" y="711.95" width="11.22" height="4.15" fill="#2EBAED" stroke="#1e1e1e" stroke-width="0.9"/>
<rect x="388.78" y="599.42" width="11.22" height="116.68" fill="#2EBAED" stroke="#1e1e1e" stroke-width="0.9"/>
<rect x="400" y="667.77" width="11.22" height="48.33" fill="#000000" stroke="#1e1e1e" stroke-width="0.9"/>
<rect x="411.22" y="677.58" width="11.22" height="38.52" fill="#000000" stroke="#1e1e1e" stroke-width="0.9"/>
<rect x="422.44" y="708.93" width="11.22" height="7.17" fill="#000000" stroke="#1e1e1e" stroke-width="0.9"/>
<rect x="433.66" y="637.56" width="11.22" height="78.54" fill="#000000" stroke="#1e1e1e" stroke-width="0.9"/>
<rect x="444.88" y="677.58" width="11.22" height="38.52" fill="#000000" stroke="#1e1e1e" stroke-width="0.9"/>
<rect x="456.09" y="679.47" width="11.22" height="36.63" fill="#000000" stroke="#1e1e1e" stroke-width="0.9"/>
<rect x="467.31" y="708.93" width="11.22" height="7.17" fill="#000000" stroke="#1e1e1e" stroke-width="0.9"/>
<rect x="478.53" y="681.74" width="11.22" height="34.36" fill="#000000" stroke="#1e1e1e" stroke-width="0.9"/>
<rect x="489.75" y="686.65" width="11.22" height="29.45" fill="#000000" stroke="#1e1e1e" stroke-width="0.9"/>
<rect x="500.97" y="605.46" width="11.22" height="110.64" fill="#000000" stroke="#1e1e1e" stroke-width="0.9"/>
<rect x="512.19" y="714.59" width="11.22" height="1.51" fill="#000000" stroke="#1e1e1e" stroke-width="0.9"/>
<rect x="523.41" y="647.38" width="11.22" height="68.72" fill="#000000" stroke="#1e1e1e" stroke-width="0.9"/>
<rect x="534.62" y="671.92" width="11.22" height="44.18" fill="#000000" stroke="#1e1e1e" stroke-width="0.9"/>
<rect x="545.84" y="679.85" width="11.22" height="36.25" fill="#000000" stroke="#1e1e1e" stroke-width="0.9"/>
<rect x="557.06" y="707.42" width="11.22" height="8.68" fill="#000000" stroke="#1e1e1e" stroke-width="0.9"/>
<rect x="568.28" y="622.83" width="11.22" height="93.27" fill="#000000" stroke="#1e1e1e" stroke-width="0.9"/>
<rect x="579.5" y="667.77" width="11.22" height="48.33" fill="#DE1C14" stroke="#1e1e1e" stroke-width="0.9"/>
<rect x="590.72" y="697.98" width="11.22" height="18.12" fill="#DE1C14" stroke="#1e1e1e" stroke-width="0.9"/>
<rect x="601.94" y="701" width="11.22" height="15.1" fill="#DE1C14" stroke="#1e1e1e" stroke-width="0.9"/>
<rect x="613.16" y="688.91" width="11.22" height="27.19" fill="#DE1C14" stroke="#1e1e1e" stroke-width="0.9"/>
<rect x="624.38" y="698.73" width="11.22" height="17.37" fill="#DE1C14" stroke="#1e1e1e" stroke-width="0.9"/>
<rect x="635.59" y="690.42" width="11.22" height="25.68" fill="#DE1C14" stroke="#1e1e1e" stroke-width="0.9"/>
<rect x="646.81" y="666.26" width="11.22" height="49.84" fill="#DE1C14" stroke="#1e1e1e" stroke-width="0.9"/>
<rect x="658.03" y="691.93" width="11.22" height="24.17" fill="#DE1C14" stroke="#1e1e1e" stroke-width="0.9"/>
<rect x="669.25" y="698.73" width="11.22" height="17.37" fill="#DE1C14" stroke="#1e1e1e" stroke-width="0.9"/>
<rect x="680.47" y="693.82" width="11.22" height="22.28" fill="#DE1C14" stroke="#1e1e1e" stroke-width="0.9"/>
<rect x="691.69" y="706.28" width="11.22" height="9.82" fill="#DE1C14" stroke="#1e1e1e" stroke-width="0.9"/>
<rect x="702.91" y="697.98" width="11.22" height="18.12" fill="#DE1C14" stroke="#1e1e1e" stroke-width="0.9"/>
<rect x="714.12" y="701" width="11.22" height="15.1" fill="#DE1C14" stroke="#1e1e1e" stroke-width="0.9"/>
<rect x="725.34" y="681.74" width="11.22" height="34.36" fill="#DE1C14" stroke="#1e1e1e" stroke-width="0.9"/>
<rect x="736.56" y="703.26" width="11.22" height="12.84" fill="#DE1C14" stroke="#1e1e1e" stroke-width="0.9"/>
<rect x="747.78" y="680.61" width="11.22" height="35.49" fill="#DE1C14" stroke="#1e1e1e" stroke-width="0.9"/>
<rect x="759" y="672.68" width="11.22" height="43.42" fill="#D4D2D2" stroke="#1e1e1e" stroke-width="0.9"/>
<rect x="770.22" y="703.64" width="11.22" height="12.46" fill="#D4D2D2" stroke="#1e1e1e" stroke-width="0.9"/>
<rect x="781.44" y="697.6" width="11.22" height="18.5" fill="#D4D2D2" stroke="#1e1e1e" stroke-width="0.9"/>
<rect x="792.66" y="635.29" width="11.22" height="80.81" fill="#D4D2D2" stroke="#1e1e1e" stroke-width="0.9"/>
<rect x="803.88" y="679.85" width="11.22" height="36.25" fill="#D4D2D2" stroke="#1e1e1e" stroke-width="0.9"/>
<rect x="815.09" y="693.82" width="11.22" height="22.28" fill="#D4D2D2" stroke="#1e1e1e" stroke-width="0.9"/>
<rect x="826.31" y="679.85" width="11.22" height="36.25" fill="#D4D2D2" stroke="#1e1e1e" stroke-width="0.9"/>
<rect x="837.53" y="639.45" width="11.22" height="76.65" fill="#D4D2D2" stroke="#1e1e1e" stroke-width="0.9"/>
<rect x="848.75" y="706.28" width="11.22" height="9.82" fill="#D4D2D2" stroke="#1e1e1e" stroke-width="0.9"/>
<rect x="859.97" y="699.86" width="11.22" height="16.24" fill="#D4D2D2" stroke="#1e1e1e" stroke-width="0.9"/>
<rect x="871.19" y="696.46" width="11.22" height="19.64" fill="#D4D2D2" stroke="#1e1e1e" stroke-width="0.9"/>
<rect x="882.41" y="691.18" width="11.22" height="24.92" fill="#D4D2D2" stroke="#1e1e1e" stroke-width="0.9"/>
<rect x="893.62" y="659.84" width="11.22" height="56.26" fill="#D4D2D2" stroke="#1e1e1e" stroke-width="0.9"/>
<rect x="904.84" y="705.15" width="11.22" height="10.95" fill="#D4D2D2" stroke="#1e1e1e" stroke-width="0.9"/>
<rect x="916.06" y="674.94" width="11.22" height="41.16" fill="#D4D2D2" stroke="#1e1e1e" stroke-width="0.9"/>
<rect x="927.28" y="658.7" width="11.22" height="57.4" fill="#D4D2D2" stroke="#1e1e1e" stroke-width="0.9"/>
<rect x="938.5" y="680.98" width="11.22" height="35.12" fill="#ADCC54" stroke="#1e1e1e" stroke-width="0.9"/>
<rect x="949.72" y="684" width="11.22" height="32.1" fill="#ADCC54" stroke="#1e1e1e" stroke-width="0.9"/>
<rect x="960.94" y="680.61" width="11.22" height="35.49" fill="#ADCC54" stroke="#1e1e1e" stroke-width="0.9"/>
<rect x="972.16" y="679.85" width="11.22" height="36.25" fill="#ADCC54" stroke="#1e1e1e" stroke-width="0.9"/>
<rect x="983.38" y="689.29" width="11.22" height="26.81" fill="#ADCC54" stroke="#1e1e1e" stroke-width="0.9"/>
<rect x="994.59" y="673.05" width="11.22" height="43.05" fill="#ADCC54" stroke="#1e1e1e" stroke-width="0.9"/>
<rect x="1005.81" y="673.43" width="11.22" height="42.67" fill="#ADCC54" stroke="#1e1e1e" stroke-width="0.9"/>
<rect x="1017.03" y="596.02" width="11.22" height="120.08" fill="#ADCC54" stroke="#1e1e1e" stroke-width="0.9"/>
<rect x="1028.25" y="687.78" width="11.22" height="28.32" fill="#ADCC54" stroke="#1e1e1e" stroke-width="0.9"/>
<rect x="1039.47" y="690.42" width="11.22" height="25.68" fill="#ADCC54" stroke="#1e1e1e" stroke-width="0.9"/>
<rect x="1050.69" y="689.67" width="11.22" height="26.43" fill="#ADCC54" stroke="#1e1e1e" stroke-width="0.9"/>
<rect x="1061.91" y="690.8" width="11.22" height="25.3" fill="#ADCC54" stroke="#1e1e1e" stroke-width="0.9"/>
<rect x="1073.12" y="685.14" width="11.22" height="30.96" fill="#ADCC54" stroke="#1e1e1e" stroke-width="0.9"/>
<rect x="1084.34" y="670.03" width="11.22" height="46.07" fill="#ADCC54" stroke="#1e1e1e" stroke-width="0.9"/>
<rect x="1095.56" y="695.71" width="11.22" height="20.39" fill="#ADCC54" stroke="#1e1e1e" stroke-width="0.9"/>
<rect x="1106.78" y="664.37" width="11.22" height="51.73" fill="#ADCC54" stroke="#1e1e1e" stroke-width="0.9"/>
<rect x="1118" y="645.49" width="11.22" height="70.61" fill="#F0D0CE" stroke="#1e1e1e" stroke-width="0.9"/>
<rect x="1129.22" y="679.1" width="11.22" height="37" fill="#F0D0CE" stroke="#1e1e1e" stroke-width="0.9"/>
<rect x="1140.44" y="676.83" width="11.22" height="39.27" fill="#F0D0CE" stroke="#1e1e1e" stroke-width="0.9"/>
<rect x="1151.66" y="656.06" width="11.22" height="60.04" fill="#F0D0CE" stroke="#1e1e1e" stroke-width="0.9"/>
<rect x="1162.88" y="690.8" width="11.22" height="25.3" fill="#F0D0CE" stroke="#1e1e1e" stroke-width="0.9"/>
<rect x="1174.09" y="699.86" width="11.22" height="16.24" fill="#F0D0CE" stroke="#1e1e1e" stroke-width="0.9"/>
<rect x="1185.31" y="696.09" width="11.22" height="20.01" fill="#F0D0CE" stroke="#1e1e1e" stroke-width="0.9"/>
<rect x="1196.53" y="591.11" width="11.22" height="124.99" fill="#F0D0CE" stroke="#1e1e1e" stroke-width="0.9"/>
<rect x="1207.75" y="702.51" width="11.22" height="13.59" fill="#F0D0CE" stroke="#1e1e1e" stroke-width="0.9"/>
<rect x="1218.97" y="694.95" width="11.22" height="21.15" fill="#F0D0CE" stroke="#1e1e1e" stroke-width="0.9"/>
<rect x="1230.19" y="696.46" width="11.22" height="19.64" fill="#F0D0CE" stroke="#1e1e1e" stroke-width="0.9"/>
<rect x="1241.41" y="660.22" width="11.22" height="55.88" fill="#F0D0CE" stroke="#1e1e1e" stroke-width="0.9"/>
<rect x="1252.62" y="635.29" width="11.22" height="80.81" fill="#F0D0CE" stroke="#1e1e1e" stroke-width="0.9"/>
<rect x="1263.84" y="693.07" width="11.22" height="23.03" fill="#F0D0CE" stroke="#1e1e1e" stroke-width="0.9"/>
<rect x="1275.06" y="673.81" width="11.22" height="42.29" fill="#F0D0CE" stroke="#1e1e1e" stroke-width="0.9"/>
<rect x="1286.28" y="580.92" width="11.22" height="135.18" fill="#F0D0CE" stroke="#1e1e1e" stroke-width="0.9"/>
<rect x="220.5" y="518.2" width="1077" height="206.5" fill="none" stroke="#555" stroke-width="1.8"/>
<line x1="400" y1="518.2" x2="400" y2="724.7" stroke="#2a2a2a" stroke-width="1.8"/>
<line x1="579.5" y1="518.2" x2="579.5" y2="724.7" stroke="#2a2a2a" stroke-width="1.8"/>
<line x1="759" y1="518.2" x2="759" y2="724.7" stroke="#2a2a2a" stroke-width="1.8"/>
<line x1="938.5" y1="518.2" x2="938.5" y2="724.7" stroke="#2a2a2a" stroke-width="1.8"/>
<line x1="1118" y1="518.2" x2="1118" y2="724.7" stroke="#2a2a2a" stroke-width="1.8"/>
<rect x="1297.5" y="518.2" width="42.5" height="206.5" fill="#d9d9d9" stroke="#555" stroke-width="1.8"/>
<line x1="1297.5" y1="518.2" x2="1297.5" y2="724.7" stroke="#2a2a2a" stroke-width="1.8"/>
<text transform="translate(1311.2,621.45) rotate(90)" text-anchor="middle" font-family="Liberation Sans" font-size="21.5" fill="#1a1a1a" stroke="#1a1a1a" stroke-width="0.45">BRCA2-sc1</text>
<line x1="213.6" y1="716.1" x2="220.5" y2="716.1" stroke="#333" stroke-width="1.8"/>
<text x="207" y="722.5" text-anchor="end" font-family="Liberation Sans" font-size="18" letter-spacing="0.5" fill="#4d4d4d">0.00</text>
<line x1="213.6" y1="678.34" x2="220.5" y2="678.34" stroke="#333" stroke-width="1.8"/>
<text x="207" y="684.74" text-anchor="end" font-family="Liberation Sans" font-size="18" letter-spacing="0.5" fill="#4d4d4d">0.01</text>
<line x1="213.6" y1="640.58" x2="220.5" y2="640.58" stroke="#333" stroke-width="1.8"/>
<text x="207" y="646.98" text-anchor="end" font-family="Liberation Sans" font-size="18" letter-spacing="0.5" fill="#4d4d4d">0.02</text>
<line x1="213.6" y1="602.82" x2="220.5" y2="602.82" stroke="#333" stroke-width="1.8"/>
<text x="207" y="609.22" text-anchor="end" font-family="Liberation Sans" font-size="18" letter-spacing="0.5" fill="#4d4d4d">0.03</text>
<line x1="213.6" y1="565.06" x2="220.5" y2="565.06" stroke="#333" stroke-width="1.8"/>
<text x="207" y="571.46" text-anchor="end" font-family="Liberation Sans" font-size="18" letter-spacing="0.5" fill="#4d4d4d">0.04</text>
<line x1="213.6" y1="527.3" x2="220.5" y2="527.3" stroke="#333" stroke-width="1.8"/>
<text x="207" y="533.7" text-anchor="end" font-family="Liberation Sans" font-size="18" letter-spacing="0.5" fill="#4d4d4d">0.05</text>
<rect x="220.5" y="739" width="1077" height="206.5" fill="#ffffff"/>
<line x1="220.5" y1="936.9" x2="1297.5" y2="936.9" stroke="#e8e8e8" stroke-width="2"/>
<line x1="220.5" y1="918.02" x2="1297.5" y2="918.02" stroke="#f1f1f1" stroke-width="1.1"/>
<line x1="220.5" y1="899.14" x2="1297.5" y2="899.14" stroke="#e8e8e8" stroke-width="2"/>
<line x1="220.5" y1="880.26" x2="1297.5" y2="880.26" stroke="#f1f1f1" stroke-width="1.1"/>
<line x1="220.5" y1="861.38" x2="1297.5" y2="861.38" stroke="#e8e8e8" stroke-width="2"/>
<line x1="220.5" y1="842.5" x2="1297.5" y2="842.5" stroke="#f1f1f1" stroke-width="1.1"/>
<line x1="220.5" y1="823.62" x2="1297.5" y2="823.62" stroke="#e8e8e8" stroke-width="2"/>
<line x1="220.5" y1="804.74" x2="1297.5" y2="804.74" stroke="#f1f1f1" stroke-width="1.1"/>
<line x1="220.5" y1="785.86" x2="1297.5" y2="785.86" stroke="#e8e8e8" stroke-width="2"/>
<line x1="220.5" y1="766.98" x2="1297.5" y2="766.98" stroke="#f1f1f1" stroke-width="1.1"/>
<line x1="220.5" y1="748.1" x2="1297.5" y2="748.1" stroke="#e8e8e8" stroke-width="2"/>
<rect x="220.5" y="874.6" width="11.22" height="62.3" fill="#2EBAED" stroke="#1e1e1e" stroke-width="0.9"/>
<rect x="231.72" y="893.85" width="11.22" height="43.05" fill="#2EBAED" stroke="#1e1e1e" stroke-width="0.9"/>
<rect x="242.94" y="932.37" width="11.22" height="4.53" fill="#2EBAED" stroke="#1e1e1e" stroke-width="0.9"/>
<rect x="254.16" y="893.85" width="11.22" height="43.05" fill="#2EBAED" stroke="#1e1e1e" stroke-width="0.9"/>
<rect x="265.38" y="901.03" width="11.22" height="35.87" fill="#2EBAED" stroke="#1e1e1e" stroke-width="0.9"/>
<rect x="276.59" y="900.65" width="11.22" height="36.25" fill="#2EBAED" stroke="#1e1e1e" stroke-width="0.9"/>
<rect x="287.81" y="925.19" width="11.22" height="11.71" fill="#2EBAED" stroke="#1e1e1e" stroke-width="0.9"/>
<rect x="299.03" y="871.2" width="11.22" height="65.7" fill="#2EBAED" stroke="#1e1e1e" stroke-width="0.9"/>
<rect x="310.25" y="916.51" width="11.22" height="20.39" fill="#2EBAED" stroke="#1e1e1e" stroke-width="0.9"/>
<rect x="321.47" y="921.8" width="11.22" height="15.1" fill="#2EBAED" stroke="#1e1e1e" stroke-width="0.9"/>
<rect x="343.91" y="908.58" width="11.22" height="28.32" fill="#2EBAED" stroke="#1e1e1e" stroke-width="0.9"/>
<rect x="355.12" y="879.5" width="11.22" height="57.4" fill="#2EBAED" stroke="#1e1e1e" stroke-width="0.9"/>
<rect x="366.34" y="894.23" width="11.22" height="42.67" fill="#2EBAED" stroke="#1e1e1e" stroke-width="0.9"/>
<rect x="377.56" y="934.63" width="11.22" height="2.27" fill="#2EBAED" stroke="#1e1e1e" stroke-width="0.9"/>
<rect x="388.78" y="864.02" width="11.22" height="72.88" fill="#2EBAED" stroke="#1e1e1e" stroke-width="0.9"/>
<rect x="400" y="886.3" width="11.22" height="50.6" fill="#000000" stroke="#1e1e1e" stroke-width="0.9"/>
<rect x="411.22" y="904.05" width="11.22" height="32.85" fill="#000000" stroke="#1e1e1e" stroke-width="0.9"/>
<rect x="422.44" y="929.73" width="11.22" height="7.17" fill="#000000" stroke="#1e1e1e" stroke-width="0.9"/>
<rect x="433.66" y="830.42" width="11.22" height="106.48" fill="#000000" stroke="#1e1e1e" stroke-width="0.9"/>
<rect x="444.88" y="905.18" width="11.22" height="31.72" fill="#000000" stroke="#1e1e1e" stroke-width="0.9"/>
<rect x="456.09" y="897.25" width="11.22" height="39.65" fill="#000000" stroke="#1e1e1e" stroke-width="0.9"/>
<rect x="467.31" y="925.19" width="11.22" height="11.71" fill="#000000" stroke="#1e1e1e" stroke-width="0.9"/>
<rect x="478.53" y="913.11" width="11.22" height="23.79" fill="#000000" stroke="#1e1e1e" stroke-width="0.9"/>
<rect x="489.75" y="905.18" width="11.22" height="31.72" fill="#000000" stroke="#1e1e1e" stroke-width="0.9"/>
<rect x="500.97" y="804.36" width="11.22" height="132.54" fill="#000000" stroke="#1e1e1e" stroke-width="0.9"/>
<rect x="512.19" y="932.37" width="11.22" height="4.53" fill="#000000" stroke="#1e1e1e" stroke-width="0.9"/>
<rect x="523.41" y="870.82" width="11.22" height="66.08" fill="#000000" stroke="#1e1e1e" stroke-width="0.9"/>
<rect x="534.62" y="888.19" width="11.22" height="48.71" fill="#000000" stroke="#1e1e1e" stroke-width="0.9"/>
<rect x="545.84" y="883.66" width="11.22" height="53.24" fill="#000000" stroke="#1e1e1e" stroke-width="0.9"/>
<rect x="557.06" y="927.08" width="11.22" height="9.82" fill="#000000" stroke="#1e1e1e" stroke-width="0.9"/>
<rect x="568.28" y="800.21" width="11.22" height="136.69" fill="#000000" stroke="#1e1e1e" stroke-width="0.9"/>
<rect x="579.5" y="911.6" width="11.22" height="25.3" fill="#DE1C14" stroke="#1e1e1e" stroke-width="0.9"/>
<rect x="590.72" y="919.15" width="11.22" height="17.75" fill="#DE1C14" stroke="#1e1e1e" stroke-width="0.9"/>
<rect x="601.94" y="925.95" width="11.22" height="10.95" fill="#DE1C14" stroke="#1e1e1e" stroke-width="0.9"/>
<rect x="613.16" y="906.69" width="11.22" height="30.21" fill="#DE1C14" stroke="#1e1e1e" stroke-width="0.9"/>
<rect x="624.38" y="932.37" width="11.22" height="4.53" fill="#DE1C14" stroke="#1e1e1e" stroke-width="0.9"/>
<rect x="635.59" y="921.8" width="11.22" height="15.1" fill="#DE1C14" stroke="#1e1e1e" stroke-width="0.9"/>
<rect x="646.81" y="889.32" width="11.22" height="47.58" fill="#DE1C14" stroke="#1e1e1e" stroke-width="0.9"/>
<rect x="658.03" y="923.68" width="11.22" height="13.22" fill="#DE1C14" stroke="#1e1e1e" stroke-width="0.9"/>
<rect x="669.25" y="926.33" width="11.22" height="10.57" fill="#DE1C14" stroke="#1e1e1e" stroke-width="0.9"/>
<rect x="680.47" y="924.82" width="11.22" height="12.08" fill="#DE1C14" stroke="#1e1e1e" stroke-width="0.9"/>
<rect x="691.69" y="936.14" width="11.22" height="0.76" fill="#DE1C14" stroke="#1e1e1e" stroke-width="0.9"/>
<rect x="702.91" y="926.33" width="11.22" height="10.57" fill="#DE1C14" stroke="#1e1e1e" stroke-width="0.9"/>
<rect x="725.34" y="902.92" width="11.22" height="33.98" fill="#DE1C14" stroke="#1e1e1e" stroke-width="0.9"/>
<rect x="736.56" y="932.75" width="11.22" height="4.15" fill="#DE1C14" stroke="#1e1e1e" stroke-width="0.9"/>
<rect x="747.78" y="913.11" width="11.22" height="23.79" fill="#DE1C14" stroke="#1e1e1e" stroke-width="0.9"/>
<rect x="759" y="897.63" width="11.22" height="39.27" fill="#D4D2D2" stroke="#1e1e1e" stroke-width="0.9"/>
<rect x="770.22" y="929.35" width="11.22" height="7.55" fill="#D4D2D2" stroke="#1e1e1e" stroke-width="0.9"/>
<rect x="781.44" y="925.95" width="11.22" height="10.95" fill="#D4D2D2" stroke="#1e1e1e" stroke-width="0.9"/>
<rect x="792.66" y="836.08" width="11.22" height="100.82" fill="#D4D2D2" stroke="#1e1e1e" stroke-width="0.9"/>
<rect x="803.88" y="902.92" width="11.22" height="33.98" fill="#D4D2D2" stroke="#1e1e1e" stroke-width="0.9"/>
<rect x="815.09" y="920.66" width="11.22" height="16.24" fill="#D4D2D2" stroke="#1e1e1e" stroke-width="0.9"/>
<rect x="826.31" y="909.71" width="11.22" height="27.19" fill="#D4D2D2" stroke="#1e1e1e" stroke-width="0.9"/>
<rect x="837.53" y="867.8" width="11.22" height="69.1" fill="#D4D2D2" stroke="#1e1e1e" stroke-width="0.9"/>
<rect x="848.75" y="924.44" width="11.22" height="12.46" fill="#D4D2D2" stroke="#1e1e1e" stroke-width="0.9"/>
<rect x="859.97" y="923.31" width="11.22" height="13.59" fill="#D4D2D2" stroke="#1e1e1e" stroke-width="0.9"/>
<rect x="871.19" y="922.17" width="11.22" height="14.73" fill="#D4D2D2" stroke="#1e1e1e" stroke-width="0.9"/>
<rect x="882.41" y="912.36" width="11.22" height="24.54" fill="#D4D2D2" stroke="#1e1e1e" stroke-width="0.9"/>
<rect x="893.62" y="871.95" width="11.22" height="64.95" fill="#D4D2D2" stroke="#1e1e1e" stroke-width="0.9"/>
<rect x="904.84" y="921.42" width="11.22" height="15.48" fill="#D4D2D2" stroke="#1e1e1e" stroke-width="0.9"/>
<rect x="916.06" y="891.21" width="11.22" height="45.69" fill="#D4D2D2" stroke="#1e1e1e" stroke-width="0.9"/>
<rect x="927.28" y="879.5" width="11.22" height="57.4" fill="#D4D2D2" stroke="#1e1e1e" stroke-width="0.9"/>
<rect x="938.5" y="887.06" width="11.22" height="49.84" fill="#ADCC54" stroke="#1e1e1e" stroke-width="0.9"/>
<rect x="949.72" y="907.45" width="11.22" height="29.45" fill="#ADCC54" stroke="#1e1e1e" stroke-width="0.9"/>
<rect x="960.94" y="893.48" width="11.22" height="43.42" fill="#ADCC54" stroke="#1e1e1e" stroke-width="0.9"/>
<rect x="972.16" y="893.1" width="11.22" height="43.8" fill="#ADCC54" stroke="#1e1e1e" stroke-width="0.9"/>
<rect x="983.38" y="900.65" width="11.22" height="36.25" fill="#ADCC54" stroke="#1e1e1e" stroke-width="0.9"/>
<rect x="994.59" y="901.78" width="11.22" height="35.12" fill="#ADCC54" stroke="#1e1e1e" stroke-width="0.9"/>
<rect x="1005.81" y="896.87" width="11.22" height="40.03" fill="#ADCC54" stroke="#1e1e1e" stroke-width="0.9"/>
<rect x="1017.03" y="807.01" width="11.22" height="129.89" fill="#ADCC54" stroke="#1e1e1e" stroke-width="0.9"/>
<rect x="1028.25" y="905.56" width="11.22" height="31.34" fill="#ADCC54" stroke="#1e1e1e" stroke-width="0.9"/>
<rect x="1039.47" y="907.82" width="11.22" height="29.08" fill="#ADCC54" stroke="#1e1e1e" stroke-width="0.9"/>
<rect x="1050.69" y="898.38" width="11.22" height="38.52" fill="#ADCC54" stroke="#1e1e1e" stroke-width="0.9"/>
<rect x="1061.91" y="913.11" width="11.22" height="23.79" fill="#ADCC54" stroke="#1e1e1e" stroke-width="0.9"/>
<rect x="1073.12" y="899.52" width="11.22" height="37.38" fill="#ADCC54" stroke="#1e1e1e" stroke-width="0.9"/>
<rect x="1084.34" y="898.01" width="11.22" height="38.89" fill="#ADCC54" stroke="#1e1e1e" stroke-width="0.9"/>
<rect x="1095.56" y="918.02" width="11.22" height="18.88" fill="#ADCC54" stroke="#1e1e1e" stroke-width="0.9"/>
<rect x="1106.78" y="884.41" width="11.22" height="52.49" fill="#ADCC54" stroke="#1e1e1e" stroke-width="0.9"/>
<rect x="1118" y="850.43" width="11.22" height="86.47" fill="#F0D0CE" stroke="#1e1e1e" stroke-width="0.9"/>
<rect x="1129.22" y="898.38" width="11.22" height="38.52" fill="#F0D0CE" stroke="#1e1e1e" stroke-width="0.9"/>
<rect x="1140.44" y="882.15" width="11.22" height="54.75" fill="#F0D0CE" stroke="#1e1e1e" stroke-width="0.9"/>
<rect x="1151.66" y="874.22" width="11.22" height="62.68" fill="#F0D0CE" stroke="#1e1e1e" stroke-width="0.9"/>
<rect x="1162.88" y="905.56" width="11.22" height="31.34" fill="#F0D0CE" stroke="#1e1e1e" stroke-width="0.9"/>
<rect x="1174.09" y="911.22" width="11.22" height="25.68" fill="#F0D0CE" stroke="#1e1e1e" stroke-width="0.9"/>
<rect x="1185.31" y="911.22" width="11.22" height="25.68" fill="#F0D0CE" stroke="#1e1e1e" stroke-width="0.9"/>
<rect x="1196.53" y="803.98" width="11.22" height="132.92" fill="#F0D0CE" stroke="#1e1e1e" stroke-width="0.9"/>
<rect x="1207.75" y="920.29" width="11.22" height="16.61" fill="#F0D0CE" stroke="#1e1e1e" stroke-width="0.9"/>
<rect x="1218.97" y="919.91" width="11.22" height="16.99" fill="#F0D0CE" stroke="#1e1e1e" stroke-width="0.9"/>
<rect x="1230.19" y="914.24" width="11.22" height="22.66" fill="#F0D0CE" stroke="#1e1e1e" stroke-width="0.9"/>
<rect x="1241.41" y="884.41" width="11.22" height="52.49" fill="#F0D0CE" stroke="#1e1e1e" stroke-width="0.9"/>
<rect x="1252.62" y="831.93" width="11.22" height="104.97" fill="#F0D0CE" stroke="#1e1e1e" stroke-width="0.9"/>
<rect x="1263.84" y="907.45" width="11.22" height="29.45" fill="#F0D0CE" stroke="#1e1e1e" stroke-width="0.9"/>
<rect x="1275.06" y="885.92" width="11.22" height="50.98" fill="#F0D0CE" stroke="#1e1e1e" stroke-width="0.9"/>
<rect x="1286.28" y="763.96" width="11.22" height="172.94" fill="#F0D0CE" stroke="#1e1e1e" stroke-width="0.9"/>
<rect x="220.5" y="739" width="1077" height="206.5" fill="none" stroke="#555" stroke-width="1.8"/>
<line x1="400" y1="739" x2="400" y2="945.5" stroke="#2a2a2a" stroke-width="1.8"/>
<line x1="579.5" y1="739" x2="579.5" y2="945.5" stroke="#2a2a2a" stroke-width="1.8"/>
<line x1="759" y1="739" x2="759" y2="945.5" stroke="#2a2a2a" stroke-width="1.8"/>
<line x1="938.5" y1="739" x2="938.5" y2="945.5" stroke="#2a2a2a" stroke-width="1.8"/>
<line x1="1118" y1="739" x2="1118" y2="945.5" stroke="#2a2a2a" stroke-width="1.8"/>
<rect x="1297.5" y="739" width="42.5" height="206.5" fill="#d9d9d9" stroke="#555" stroke-width="1.8"/>
<line x1="1297.5" y1="739" x2="1297.5" y2="945.5" stroke="#2a2a2a" stroke-width="1.8"/>
<text transform="translate(1311.2,842.25) rotate(90)" text-anchor="middle" font-family="Liberation Sans" font-size="21.5" fill="#1a1a1a" stroke="#1a1a1a" stroke-width="0.45">BRCA2-sc2</text>
<line x1="213.6" y1="936.9" x2="220.5" y2="936.9" stroke="#333" stroke-width="1.8"/>
<text x="207" y="943.3" text-anchor="end" font-family="Liberation Sans" font-size="18" letter-spacing="0.5" fill="#4d4d4d">0.00</text>
<line x1="213.6" y1="899.14" x2="220.5" y2="899.14" stroke="#333" stroke-width="1.8"/>
<text x="207" y="905.54" text-anchor="end" font-family="Liberation Sans" font-size="18" letter-spacing="0.5" fill="#4d4d4d">0.01</text>
<line x1="213.6" y1="861.38" x2="220.5" y2="861.38" stroke="#333" stroke-width="1.8"/>
<text x="207" y="867.78" text-anchor="end" font-family="Liberation Sans" font-size="18" letter-spacing="0.5" fill="#4d4d4d">0.02</text>
<line x1="213.6" y1="823.62" x2="220.5" y2="823.62" stroke="#333" stroke-width="1.8"/>
<text x="207" y="830.02" text-anchor="end" font-family="Liberation Sans" font-size="18" letter-spacing="0.5" fill="#4d4d4d">0.03</text>
<line x1="213.6" y1="785.86" x2="220.5" y2="785.86" stroke="#333" stroke-width="1.8"/>
<text x="207" y="792.26" text-anchor="end" font-family="Liberation Sans" font-size="18" letter-spacing="0.5" fill="#4d4d4d">0.04</text>
<line x1="213.6" y1="748.1" x2="220.5" y2="748.1" stroke="#333" stroke-width="1.8"/>
<text x="207" y="754.5" text-anchor="end" font-family="Liberation Sans" font-size="18" letter-spacing="0.5" fill="#4d4d4d">0.05</text>
<rect x="220.5" y="960.3" width="1077" height="206.5" fill="#ffffff"/>
<line x1="220.5" y1="1158.2" x2="1297.5" y2="1158.2" stroke="#e8e8e8" stroke-width="2"/>
<line x1="220.5" y1="1139.32" x2="1297.5" y2="1139.32" stroke="#f1f1f1" stroke-width="1.1"/>
<line x1="220.5" y1="1120.44" x2="1297.5" y2="1120.44" stroke="#e8e8e8" stroke-width="2"/>
<line x1="220.5" y1="1101.56" x2="1297.5" y2="1101.56" stroke="#f1f1f1" stroke-width="1.1"/>
<line x1="220.5" y1="1082.68" x2="1297.5" y2="1082.68" stroke="#e8e8e8" stroke-width="2"/>
<line x1="220.5" y1="1063.8" x2="1297.5" y2="1063.8" stroke="#f1f1f1" stroke-width="1.1"/>
<line x1="220.5" y1="1044.92" x2="1297.5" y2="1044.92" stroke="#e8e8e8" stroke-width="2"/>
<line x1="220.5" y1="1026.04" x2="1297.5" y2="1026.04" stroke="#f1f1f1" stroke-width="1.1"/>
<line x1="220.5" y1="1007.16" x2="1297.5" y2="1007.16" stroke="#e8e8e8" stroke-width="2"/>
<line x1="220.5" y1="988.28" x2="1297.5" y2="988.28" stroke="#f1f1f1" stroke-width="1.1"/>
<line x1="220.5" y1="969.4" x2="1297.5" y2="969.4" stroke="#e8e8e8" stroke-width="2"/>
<rect x="220.5" y="1074.75" width="11.22" height="83.45" fill="#2EBAED" stroke="#1e1e1e" stroke-width="0.9"/>
<rect x="231.72" y="1091.36" width="11.22" height="66.84" fill="#2EBAED" stroke="#1e1e1e" stroke-width="0.9"/>
<rect x="242.94" y="1150.27" width="11.22" height="7.93" fill="#2EBAED" stroke="#1e1e1e" stroke-width="0.9"/>
<rect x="254.16" y="1096.65" width="11.22" height="61.55" fill="#2EBAED" stroke="#1e1e1e" stroke-width="0.9"/>
<rect x="265.38" y="1088.34" width="11.22" height="69.86" fill="#2EBAED" stroke="#1e1e1e" stroke-width="0.9"/>
<rect x="276.59" y="1098.92" width="11.22" height="59.28" fill="#2EBAED" stroke="#1e1e1e" stroke-width="0.9"/>
<rect x="287.81" y="1151.03" width="11.22" height="7.17" fill="#2EBAED" stroke="#1e1e1e" stroke-width="0.9"/>
<rect x="299.03" y="1102.32" width="11.22" height="55.88" fill="#2EBAED" stroke="#1e1e1e" stroke-width="0.9"/>
<rect x="310.25" y="1121.57" width="11.22" height="36.63" fill="#2EBAED" stroke="#1e1e1e" stroke-width="0.9"/>
<rect x="321.47" y="1117.42" width="11.22" height="40.78" fill="#2EBAED" stroke="#1e1e1e" stroke-width="0.9"/>
<rect x="332.69" y="1154.42" width="11.22" height="3.78" fill="#2EBAED" stroke="#1e1e1e" stroke-width="0.9"/>
<rect x="343.91" y="1112.51" width="11.22" height="45.69" fill="#2EBAED" stroke="#1e1e1e" stroke-width="0.9"/>
<rect x="355.12" y="1114.4" width="11.22" height="43.8" fill="#2EBAED" stroke="#1e1e1e" stroke-width="0.9"/>
<rect x="366.34" y="1095.9" width="11.22" height="62.3" fill="#2EBAED" stroke="#1e1e1e" stroke-width="0.9"/>
<rect x="377.56" y="1152.91" width="11.22" height="5.29" fill="#2EBAED" stroke="#1e1e1e" stroke-width="0.9"/>
<rect x="388.78" y="1096.65" width="11.22" height="61.55" fill="#2EBAED" stroke="#1e1e1e" stroke-width="0.9"/>
<rect x="400" y="1068.71" width="11.22" height="89.49" fill="#000000" stroke="#1e1e1e" stroke-width="0.9"/>
<rect x="411.22" y="1112.51" width="11.22" height="45.69" fill="#000000" stroke="#1e1e1e" stroke-width="0.9"/>
<rect x="422.44" y="1138.94" width="11.22" height="19.26" fill="#000000" stroke="#1e1e1e" stroke-width="0.9"/>
<rect x="433.66" y="1070.97" width="11.22" height="87.23" fill="#000000" stroke="#1e1e1e" stroke-width="0.9"/>
<rect x="444.88" y="1095.52" width="11.22" height="62.68" fill="#000000" stroke="#1e1e1e" stroke-width="0.9"/>
<rect x="456.09" y="1107.6" width="11.22" height="50.6" fill="#000000" stroke="#1e1e1e" stroke-width="0.9"/>
<rect x="467.31" y="1142.72" width="11.22" height="15.48" fill="#000000" stroke="#1e1e1e" stroke-width="0.9"/>
<rect x="478.53" y="1068.33" width="11.22" height="89.87" fill="#000000" stroke="#1e1e1e" stroke-width="0.9"/>
<rect x="489.75" y="1113.27" width="11.22" height="44.93" fill="#000000" stroke="#1e1e1e" stroke-width="0.9"/>
<rect x="500.97" y="1121.57" width="11.22" height="36.63" fill="#000000" stroke="#1e1e1e" stroke-width="0.9"/>
<rect x="512.19" y="1152.54" width="11.22" height="5.66" fill="#000000" stroke="#1e1e1e" stroke-width="0.9"/>
<rect x="523.41" y="1091.36" width="11.22" height="66.84" fill="#000000" stroke="#1e1e1e" stroke-width="0.9"/>
<rect x="534.62" y="1098.54" width="11.22" height="59.66" fill="#000000" stroke="#1e1e1e" stroke-width="0.9"/>
<rect x="545.84" y="1083.06" width="11.22" height="75.14" fill="#000000" stroke="#1e1e1e" stroke-width="0.9"/>
<rect x="557.06" y="1149.52" width="11.22" height="8.68" fill="#000000" stroke="#1e1e1e" stroke-width="0.9"/>
<rect x="568.28" y="1036.24" width="11.22" height="121.96" fill="#000000" stroke="#1e1e1e" stroke-width="0.9"/>
<rect x="579.5" y="1091.36" width="11.22" height="66.84" fill="#DE1C14" stroke="#1e1e1e" stroke-width="0.9"/>
<rect x="590.72" y="1125.35" width="11.22" height="32.85" fill="#DE1C14" stroke="#1e1e1e" stroke-width="0.9"/>
<rect x="601.94" y="1144.98" width="11.22" height="13.22" fill="#DE1C14" stroke="#1e1e1e" stroke-width="0.9"/>
<rect x="613.16" y="1102.69" width="11.22" height="55.51" fill="#DE1C14" stroke="#1e1e1e" stroke-width="0.9"/>
<rect x="624.38" y="1104.2" width="11.22" height="54" fill="#DE1C14" stroke="#1e1e1e" stroke-width="0.9"/>
<rect x="635.59" y="1126.48" width="11.22" height="31.72" fill="#DE1C14" stroke="#1e1e1e" stroke-width="0.9"/>
<rect x="646.81" y="1144.98" width="11.22" height="13.22" fill="#DE1C14" stroke="#1e1e1e" stroke-width="0.9"/>
<rect x="658.03" y="1097.78" width="11.22" height="60.42" fill="#DE1C14" stroke="#1e1e1e" stroke-width="0.9"/>
<rect x="669.25" y="1097.78" width="11.22" height="60.42" fill="#DE1C14" stroke="#1e1e1e" stroke-width="0.9"/>
<rect x="680.47" y="1127.99" width="11.22" height="30.21" fill="#DE1C14" stroke="#1e1e1e" stroke-width="0.9"/>
<rect x="691.69" y="1154.8" width="11.22" height="3.4" fill="#DE1C14" stroke="#1e1e1e" stroke-width="0.9"/>
<rect x="702.91" y="1118.55" width="11.22" height="39.65" fill="#DE1C14" stroke="#1e1e1e" stroke-width="0.9"/>
<rect x="714.12" y="1125.35" width="11.22" height="32.85" fill="#DE1C14" stroke="#1e1e1e" stroke-width="0.9"/>
<rect x="725.34" y="1107.6" width="11.22" height="50.6" fill="#DE1C14" stroke="#1e1e1e" stroke-width="0.9"/>
<rect x="736.56" y="1152.91" width="11.22" height="5.29" fill="#DE1C14" stroke="#1e1e1e" stroke-width="0.9"/>
<rect x="747.78" y="1120.06" width="11.22" height="38.14" fill="#DE1C14" stroke="#1e1e1e" stroke-width="0.9"/>
<rect x="759" y="1127.24" width="11.22" height="30.96" fill="#D4D2D2" stroke="#1e1e1e" stroke-width="0.9"/>
<rect x="770.22" y="1131.01" width="11.22" height="27.19" fill="#D4D2D2" stroke="#1e1e1e" stroke-width="0.9"/>
<rect x="781.44" y="1131.01" width="11.22" height="27.19" fill="#D4D2D2" stroke="#1e1e1e" stroke-width="0.9"/>
<rect x="792.66" y="1125.73" width="11.22" height="32.47" fill="#D4D2D2" stroke="#1e1e1e" stroke-width="0.9"/>
<rect x="803.88" y="1130.26" width="11.22" height="27.94" fill="#D4D2D2" stroke="#1e1e1e" stroke-width="0.9"/>
<rect x="815.09" y="1110.62" width="11.22" height="47.58" fill="#D4D2D2" stroke="#1e1e1e" stroke-width="0.9"/>
<rect x="826.31" y="1114.78" width="11.22" height="43.42" fill="#D4D2D2" stroke="#1e1e1e" stroke-width="0.9"/>
<rect x="837.53" y="1096.27" width="11.22" height="61.93" fill="#D4D2D2" stroke="#1e1e1e" stroke-width="0.9"/>
<rect x="848.75" y="1141.59" width="11.22" height="16.61" fill="#D4D2D2" stroke="#1e1e1e" stroke-width="0.9"/>
<rect x="859.97" y="1136.68" width="11.22" height="21.52" fill="#D4D2D2" stroke="#1e1e1e" stroke-width="0.9"/>
<rect x="871.19" y="1128.37" width="11.22" height="29.83" fill="#D4D2D2" stroke="#1e1e1e" stroke-width="0.9"/>
<rect x="882.41" y="1125.73" width="11.22" height="32.47" fill="#D4D2D2" stroke="#1e1e1e" stroke-width="0.9"/>
<rect x="893.62" y="1131.77" width="11.22" height="26.43" fill="#D4D2D2" stroke="#1e1e1e" stroke-width="0.9"/>
<rect x="904.84" y="1124.97" width="11.22" height="33.23" fill="#D4D2D2" stroke="#1e1e1e" stroke-width="0.9"/>
<rect x="916.06" y="1133.28" width="11.22" height="24.92" fill="#D4D2D2" stroke="#1e1e1e" stroke-width="0.9"/>
<rect x="927.28" y="1101.94" width="11.22" height="56.26" fill="#D4D2D2" stroke="#1e1e1e" stroke-width="0.9"/>
<rect x="938.5" y="1109.11" width="11.22" height="49.09" fill="#ADCC54" stroke="#1e1e1e" stroke-width="0.9"/>
<rect x="949.72" y="1123.84" width="11.22" height="34.36" fill="#ADCC54" stroke="#1e1e1e" stroke-width="0.9"/>
<rect x="960.94" y="1114.02" width="11.22" height="44.18" fill="#ADCC54" stroke="#1e1e1e" stroke-width="0.9"/>
<rect x="972.16" y="1093.63" width="11.22" height="64.57" fill="#ADCC54" stroke="#1e1e1e" stroke-width="0.9"/>
<rect x="983.38" y="1128.37" width="11.22" height="29.83" fill="#ADCC54" stroke="#1e1e1e" stroke-width="0.9"/>
<rect x="994.59" y="1104.2" width="11.22" height="54" fill="#ADCC54" stroke="#1e1e1e" stroke-width="0.9"/>
<rect x="1005.81" y="1126.86" width="11.22" height="31.34" fill="#ADCC54" stroke="#1e1e1e" stroke-width="0.9"/>
<rect x="1017.03" y="1112.89" width="11.22" height="45.31" fill="#ADCC54" stroke="#1e1e1e" stroke-width="0.9"/>
<rect x="1028.25" y="1133.28" width="11.22" height="24.92" fill="#ADCC54" stroke="#1e1e1e" stroke-width="0.9"/>
<rect x="1039.47" y="1135.54" width="11.22" height="22.66" fill="#ADCC54" stroke="#1e1e1e" stroke-width="0.9"/>
<rect x="1050.69" y="1135.92" width="11.22" height="22.28" fill="#ADCC54" stroke="#1e1e1e" stroke-width="0.9"/>
<rect x="1061.91" y="1130.26" width="11.22" height="27.94" fill="#ADCC54" stroke="#1e1e1e" stroke-width="0.9"/>
<rect x="1073.12" y="1124.59" width="11.22" height="33.61" fill="#ADCC54" stroke="#1e1e1e" stroke-width="0.9"/>
<rect x="1084.34" y="1116.66" width="11.22" height="41.54" fill="#ADCC54" stroke="#1e1e1e" stroke-width="0.9"/>
<rect x="1095.56" y="1135.54" width="11.22" height="22.66" fill="#ADCC54" stroke="#1e1e1e" stroke-width="0.9"/>
<rect x="1106.78" y="1117.8" width="11.22" height="40.4" fill="#ADCC54" stroke="#1e1e1e" stroke-width="0.9"/>
<rect x="1118" y="1149.52" width="11.22" height="8.68" fill="#F0D0CE" stroke="#1e1e1e" stroke-width="0.9"/>
<rect x="1129.22" y="1153.29" width="11.22" height="4.91" fill="#F0D0CE" stroke="#1e1e1e" stroke-width="0.9"/>
<rect x="1140.44" y="1125.35" width="11.22" height="32.85" fill="#F0D0CE" stroke="#1e1e1e" stroke-width="0.9"/>
<rect x="1151.66" y="1132.15" width="11.22" height="26.05" fill="#F0D0CE" stroke="#1e1e1e" stroke-width="0.9"/>
<rect x="1162.88" y="1151.78" width="11.22" height="6.42" fill="#F0D0CE" stroke="#1e1e1e" stroke-width="0.9"/>
<rect x="1174.09" y="1137.05" width="11.22" height="21.15" fill="#F0D0CE" stroke="#1e1e1e" stroke-width="0.9"/>
<rect x="1185.31" y="1120.06" width="11.22" height="38.14" fill="#F0D0CE" stroke="#1e1e1e" stroke-width="0.9"/>
<rect x="1196.53" y="1126.1" width="11.22" height="32.1" fill="#F0D0CE" stroke="#1e1e1e" stroke-width="0.9"/>
<rect x="1207.75" y="1143.1" width="11.22" height="15.1" fill="#F0D0CE" stroke="#1e1e1e" stroke-width="0.9"/>
<rect x="1218.97" y="1141.96" width="11.22" height="16.24" fill="#F0D0CE" stroke="#1e1e1e" stroke-width="0.9"/>
<rect x="1230.19" y="1097.03" width="11.22" height="61.17" fill="#F0D0CE" stroke="#1e1e1e" stroke-width="0.9"/>
<rect x="1241.41" y="1132.52" width="11.22" height="25.68" fill="#F0D0CE" stroke="#1e1e1e" stroke-width="0.9"/>
<rect x="1252.62" y="1138.94" width="11.22" height="19.26" fill="#F0D0CE" stroke="#1e1e1e" stroke-width="0.9"/>
<rect x="1263.84" y="1135.92" width="11.22" height="22.28" fill="#F0D0CE" stroke="#1e1e1e" stroke-width="0.9"/>
<rect x="1275.06" y="1116.66" width="11.22" height="41.54" fill="#F0D0CE" stroke="#1e1e1e" stroke-width="0.9"/>
<rect x="1286.28" y="1109.87" width="11.22" height="48.33" fill="#F0D0CE" stroke="#1e1e1e" stroke-width="0.9"/>
<rect x="220.5" y="960.3" width="1077" height="206.5" fill="none" stroke="#555" stroke-width="1.8"/>
<line x1="400" y1="960.3" x2="400" y2="1166.8" stroke="#2a2a2a" stroke-width="1.8"/>
<line x1="579.5" y1="960.3" x2="579.5" y2="1166.8" stroke="#2a2a2a" stroke-width="1.8"/>
<line x1="759" y1="960.3" x2="759" y2="1166.8" stroke="#2a2a2a" stroke-width="1.8"/>
<line x1="938.5" y1="960.3" x2="938.5" y2="1166.8" stroke="#2a2a2a" stroke-width="1.8"/>
<line x1="1118" y1="960.3" x2="1118" y2="1166.8" stroke="#2a2a2a" stroke-width="1.8"/>
<rect x="1297.5" y="960.3" width="42.5" height="206.5" fill="#d9d9d9" stroke="#555" stroke-width="1.8"/>
<line x1="1297.5" y1="960.3" x2="1297.5" y2="1166.8" stroke="#2a2a2a" stroke-width="1.8"/>
<text transform="translate(1311.2,1063.55) rotate(90)" text-anchor="middle" font-family="Liberation Sans" font-size="21.5" fill="#1a1a1a" stroke="#1a1a1a" stroke-width="0.45">Signature 3</text>
<line x1="213.6" y1="1158.2" x2="220.5" y2="1158.2" stroke="#333" stroke-width="1.8"/>
<text x="207" y="1164.6" text-anchor="end" font-family="Liberation Sans" font-size="18" letter-spacing="0.5" fill="#4d4d4d">0.00</text>
<line x1="213.6" y1="1120.44" x2="220.5" y2="1120.44" stroke="#333" stroke-width="1.8"/>
<text x="207" y="1126.84" text-anchor="end" font-family="Liberation Sans" font-size="18" letter-spacing="0.5" fill="#4d4d4d">0.01</text>
<line x1="213.6" y1="1082.68" x2="220.5" y2="1082.68" stroke="#333" stroke-width="1.8"/>
<text x="207" y="1089.08" text-anchor="end" font-family="Liberation Sans" font-size="18" letter-spacing="0.5" fill="#4d4d4d">0.02</text>
<line x1="213.6" y1="1044.92" x2="220.5" y2="1044.92" stroke="#333" stroke-width="1.8"/>
<text x="207" y="1051.32" text-anchor="end" font-family="Liberation Sans" font-size="18" letter-spacing="0.5" fill="#4d4d4d">0.03</text>
<line x1="213.6" y1="1007.16" x2="220.5" y2="1007.16" stroke="#333" stroke-width="1.8"/>
<text x="207" y="1013.56" text-anchor="end" font-family="Liberation Sans" font-size="18" letter-spacing="0.5" fill="#4d4d4d">0.04</text>
<line x1="213.6" y1="969.4" x2="220.5" y2="969.4" stroke="#333" stroke-width="1.8"/>
<text x="207" y="975.8" text-anchor="end" font-family="Liberation Sans" font-size="18" letter-spacing="0.5" fill="#4d4d4d">0.05</text>
<line x1="226.11" y1="1166.8" x2="226.11" y2="1174.2" stroke="#333" stroke-width="1.8"/>
<text transform="translate(227.81,1185.1) rotate(-90)" text-anchor="middle" font-family="Liberation Sans" font-size="12.5" fill="#5e5e5e">A</text>
<text transform="translate(227.81,1195.7) rotate(-90)" text-anchor="middle" font-family="Liberation Sans" font-size="12.5" fill="#5e5e5e">A</text>
<line x1="237.33" y1="1166.8" x2="237.33" y2="1174.2" stroke="#333" stroke-width="1.8"/>
<text transform="translate(239.03,1185.1) rotate(-90)" text-anchor="middle" font-family="Liberation Sans" font-size="12.5" fill="#5e5e5e">C</text>
<text transform="translate(239.03,1195.7) rotate(-90)" text-anchor="middle" font-family="Liberation Sans" font-size="12.5" fill="#5e5e5e">A</text>
<line x1="248.55" y1="1166.8" x2="248.55" y2="1174.2" stroke="#333" stroke-width="1.8"/>
<text transform="translate(250.25,1185.1) rotate(-90)" text-anchor="middle" font-family="Liberation Sans" font-size="12.5" fill="#5e5e5e">G</text>
<text transform="translate(250.25,1195.7) rotate(-90)" text-anchor="middle" font-family="Liberation Sans" font-size="12.5" fill="#5e5e5e">A</text>
<line x1="259.77" y1="1166.8" x2="259.77" y2="1174.2" stroke="#333" stroke-width="1.8"/>
<text transform="translate(261.47,1185.1) rotate(-90)" text-anchor="middle" font-family="Liberation Sans" font-size="12.5" fill="#5e5e5e">T</text>
<text transform="translate(261.47,1195.7) rotate(-90)" text-anchor="middle" font-family="Liberation Sans" font-size="12.5" fill="#5e5e5e">A</text>
<line x1="270.98" y1="1166.8" x2="270.98" y2="1174.2" stroke="#333" stroke-width="1.8"/>
<text transform="translate(272.68,1185.1) rotate(-90)" text-anchor="middle" font-family="Liberation Sans" font-size="12.5" fill="#5e5e5e">A</text>
<text transform="translate(272.68,1195.7) rotate(-90)" text-anchor="middle" font-family="Liberation Sans" font-size="12.5" fill="#5e5e5e">C</text>
<line x1="282.2" y1="1166.8" x2="282.2" y2="1174.2" stroke="#333" stroke-width="1.8"/>
<text transform="translate(283.9,1185.1) rotate(-90)" text-anchor="middle" font-family="Liberation Sans" font-size="12.5" fill="#5e5e5e">C</text>
<text transform="translate(283.9,1195.7) rotate(-90)" text-anchor="middle" font-family="Liberation Sans" font-size="12.5" fill="#5e5e5e">C</text>
<line x1="293.42" y1="1166.8" x2="293.42" y2="1174.2" stroke="#333" stroke-width="1.8"/>
<text transform="translate(295.12,1185.1) rotate(-90)" text-anchor="middle" font-family="Liberation Sans" font-size="12.5" fill="#5e5e5e">G</text>
<text transform="translate(295.12,1195.7) rotate(-90)" text-anchor="middle" font-family="Liberation Sans" font-size="12.5" fill="#5e5e5e">C</text>
<line x1="304.64" y1="1166.8" x2="304.64" y2="1174.2" stroke="#333" stroke-width="1.8"/>
<text transform="translate(306.34,1185.1) rotate(-90)" text-anchor="middle" font-family="Liberation Sans" font-size="12.5" fill="#5e5e5e">T</text>
<text transform="translate(306.34,1195.7) rotate(-90)" text-anchor="middle" font-family="Liberation Sans" font-size="12.5" fill="#5e5e5e">C</text>
<line x1="315.86" y1="1166.8" x2="315.86" y2="1174.2" stroke="#333" stroke-width="1.8"/>
<text transform="translate(317.56,1185.1) rotate(-90)" text-anchor="middle" font-family="Liberation Sans" font-size="12.5" fill="#5e5e5e">A</text>
<text transform="translate(317.56,1195.7) rotate(-90)" text-anchor="middle" font-family="Liberation Sans" font-size="12.5" fill="#5e5e5e">G</text>
<line x1="327.08" y1="1166.8" x2="327.08" y2="1174.2" stroke="#333" stroke-width="1.8"/>
<text transform="translate(328.78,1185.1) rotate(-90)" text-anchor="middle" font-family="Liberation Sans" font-size="12.5" fill="#5e5e5e">C</text>
<text transform="translate(328.78,1195.7) rotate(-90)" text-anchor="middle" font-family="Liberation Sans" font-size="12.5" fill="#5e5e5e">G</text>
<line x1="338.3" y1="1166.8" x2="338.3" y2="1174.2" stroke="#333" stroke-width="1.8"/>
<text transform="translate(340,1185.1) rotate(-90)" text-anchor="middle" font-family="Liberation Sans" font-size="12.5" fill="#5e5e5e">G</text>
<text transform="translate(340,1195.7) rotate(-90)" text-anchor="middle" font-family="Liberation Sans" font-size="12.5" fill="#5e5e5e">G</text>
<line x1="349.52" y1="1166.8" x2="349.52" y2="1174.2" stroke="#333" stroke-width="1.8"/>
<text transform="translate(351.22,1185.1) rotate(-90)" text-anchor="middle" font-family="Liberation Sans" font-size="12.5" fill="#5e5e5e">T</text>
<text transform="translate(351.22,1195.7) rotate(-90)" text-anchor="middle" font-family="Liberation Sans" font-size="12.5" fill="#5e5e5e">G</text>
<line x1="360.73" y1="1166.8" x2="360.73" y2="1174.2" stroke="#333" stroke-width="1.8"/>
<text transform="translate(362.43,1185.1) rotate(-90)" text-anchor="middle" font-family="Liberation Sans" font-size="12.5" fill="#5e5e5e">A</text>
<text transform="translate(362.43,1195.7) rotate(-90)" text-anchor="middle" font-family="Liberation Sans" font-size="12.5" fill="#5e5e5e">T</text>
<line x1="371.95" y1="1166.8" x2="371.95" y2="1174.2" stroke="#333" stroke-width="1.8"/>
<text transform="translate(373.65,1185.1) rotate(-90)" text-anchor="middle" font-family="Liberation Sans" font-size="12.5" fill="#5e5e5e">C</text>
<text transform="translate(373.65,1195.7) rotate(-90)" text-anchor="middle" font-family="Liberation Sans" font-size="12.5" fill="#5e5e5e">T</text>
<line x1="383.17" y1="1166.8" x2="383.17" y2="1174.2" stroke="#333" stroke-width="1.8"/>
<text transform="translate(384.87,1185.1) rotate(-90)" text-anchor="middle" font-family="Liberation Sans" font-size="12.5" fill="#5e5e5e">G</text>
<text transform="translate(384.87,1195.7) rotate(-90)" text-anchor="middle" font-family="Liberation Sans" font-size="12.5" fill="#5e5e5e">T</text>
<line x1="394.39" y1="1166.8" x2="394.39" y2="1174.2" stroke="#333" stroke-width="1.8"/>
<text transform="translate(396.09,1185.1) rotate(-90)" text-anchor="middle" font-family="Liberation Sans" font-size="12.5" fill="#5e5e5e">T</text>
<text transform="translate(396.09,1195.7) rotate(-90)" text-anchor="middle" font-family="Liberation Sans" font-size="12.5" fill="#5e5e5e">T</text>
<line x1="405.61" y1="1166.8" x2="405.61" y2="1174.2" stroke="#333" stroke-width="1.8"/>
<text transform="translate(407.31,1185.1) rotate(-90)" text-anchor="middle" font-family="Liberation Sans" font-size="12.5" fill="#5e5e5e">A</text>
<text transform="translate(407.31,1195.7) rotate(-90)" text-anchor="middle" font-family="Liberation Sans" font-size="12.5" fill="#5e5e5e">A</text>
<line x1="416.83" y1="1166.8" x2="416.83" y2="1174.2" stroke="#333" stroke-width="1.8"/>
<text transform="translate(418.53,1185.1) rotate(-90)" text-anchor="middle" font-family="Liberation Sans" font-size="12.5" fill="#5e5e5e">C</text>
<text transform="translate(418.53,1195.7) rotate(-90)" text-anchor="middle" font-family="Liberation Sans" font-size="12.5" fill="#5e5e5e">A</text>
<line x1="428.05" y1="1166.8" x2="428.05" y2="1174.2" stroke="#333" stroke-width="1.8"/>
<text transform="translate(429.75,1185.1) rotate(-90)" text-anchor="middle" font-family="Liberation Sans" font-size="12.5" fill="#5e5e5e">G</text>
<text transform="translate(429.75,1195.7) rotate(-90)" text-anchor="middle" font-family="Liberation Sans" font-size="12.5" fill="#5e5e5e">A</text>
<line x1="439.27" y1="1166.8" x2="439.27" y2="1174.2" stroke="#333" stroke-width="1.8"/>
<text transform="translate(440.97,1185.1) rotate(-90)" text-anchor="middle" font-family="Liberation Sans" font-size="12.5" fill="#5e5e5e">T</text>
<text transform="translate(440.97,1195.7) rotate(-90)" text-anchor="middle" font-family="Liberation Sans" font-size="12.5" fill="#5e5e5e">A</text>
<line x1="450.48" y1="1166.8" x2="450.48" y2="1174.2" stroke="#333" stroke-width="1.8"/>
<text transform="translate(452.18,1185.1) rotate(-90)" text-anchor="middle" font-family="Liberation Sans" font-size="12.5" fill="#5e5e5e">A</text>
<text transform="translate(452.18,1195.7) rotate(-90)" text-anchor="middle" font-family="Liberation Sans" font-size="12.5" fill="#5e5e5e">C</text>
<line x1="461.7" y1="1166.8" x2="461.7" y2="1174.2" stroke="#333" stroke-width="1.8"/>
<text transform="translate(463.4,1185.1) rotate(-90)" text-anchor="middle" font-family="Liberation Sans" font-size="12.5" fill="#5e5e5e">C</text>
<text transform="translate(463.4,1195.7) rotate(-90)" text-anchor="middle" font-family="Liberation Sans" font-size="12.5" fill="#5e5e5e">C</text>
<line x1="472.92" y1="1166.8" x2="472.92" y2="1174.2" stroke="#333" stroke-width="1.8"/>
<text transform="translate(474.62,1185.1) rotate(-90)" text-anchor="middle" font-family="Liberation Sans" font-size="12.5" fill="#5e5e5e">G</text>
<text transform="translate(474.62,1195.7) rotate(-90)" text-anchor="middle" font-family="Liberation Sans" font-size="12.5" fill="#5e5e5e">C</text>
<line x1="484.14" y1="1166.8" x2="484.14" y2="1174.2" stroke="#333" stroke-width="1.8"/>
<text transform="translate(485.84,1185.1) rotate(-90)" text-anchor="middle" font-family="Liberation Sans" font-size="12.5" fill="#5e5e5e">T</text>
<text transform="translate(485.84,1195.7) rotate(-90)" text-anchor="middle" font-family="Liberation Sans" font-size="12.5" fill="#5e5e5e">C</text>
<line x1="495.36" y1="1166.8" x2="495.36" y2="1174.2" stroke="#333" stroke-width="1.8"/>
<text transform="translate(497.06,1185.1) rotate(-90)" text-anchor="middle" font-family="Liberation Sans" font-size="12.5" fill="#5e5e5e">A</text>
<text transform="translate(497.06,1195.7) rotate(-90)" text-anchor="middle" font-family="Liberation Sans" font-size="12.5" fill="#5e5e5e">G</text>
<line x1="506.58" y1="1166.8" x2="506.58" y2="1174.2" stroke="#333" stroke-width="1.8"/>
<text transform="translate(508.28,1185.1) rotate(-90)" text-anchor="middle" font-family="Liberation Sans" font-size="12.5" fill="#5e5e5e">C</text>
<text transform="translate(508.28,1195.7) rotate(-90)" text-anchor="middle" font-family="Liberation Sans" font-size="12.5" fill="#5e5e5e">G</text>
<line x1="517.8" y1="1166.8" x2="517.8" y2="1174.2" stroke="#333" stroke-width="1.8"/>
<text transform="translate(519.5,1185.1) rotate(-90)" text-anchor="middle" font-family="Liberation Sans" font-size="12.5" fill="#5e5e5e">G</text>
<text transform="translate(519.5,1195.7) rotate(-90)" text-anchor="middle" font-family="Liberation Sans" font-size="12.5" fill="#5e5e5e">G</text>
<line x1="529.02" y1="1166.8" x2="529.02" y2="1174.2" stroke="#333" stroke-width="1.8"/>
<text transform="translate(530.72,1185.1) rotate(-90)" text-anchor="middle" font-family="Liberation Sans" font-size="12.5" fill="#5e5e5e">T</text>
<text transform="translate(530.72,1195.7) rotate(-90)" text-anchor="middle" font-family="Liberation Sans" font-size="12.5" fill="#5e5e5e">G</text>
<line x1="540.23" y1="1166.8" x2="540.23" y2="1174.2" stroke="#333" stroke-width="1.8"/>
<text transform="translate(541.93,1185.1) rotate(-90)" text-anchor="middle" font-family="Liberation Sans" font-size="12.5" fill="#5e5e5e">A</text>
<text transform="translate(541.93,1195.7) rotate(-90)" text-anchor="middle" font-family="Liberation Sans" font-size="12.5" fill="#5e5e5e">T</text>
<line x1="551.45" y1="1166.8" x2="551.45" y2="1174.2" stroke="#333" stroke-width="1.8"/>
<text transform="translate(553.15,1185.1) rotate(-90)" text-anchor="middle" font-family="Liberation Sans" font-size="12.5" fill="#5e5e5e">C</text>
<text transform="translate(553.15,1195.7) rotate(-90)" text-anchor="middle" font-family="Liberation Sans" font-size="12.5" fill="#5e5e5e">T</text>
<line x1="562.67" y1="1166.8" x2="562.67" y2="1174.2" stroke="#333" stroke-width="1.8"/>
<text transform="translate(564.37,1185.1) rotate(-90)" text-anchor="middle" font-family="Liberation Sans" font-size="12.5" fill="#5e5e5e">G</text>
<text transform="translate(564.37,1195.7) rotate(-90)" text-anchor="middle" font-family="Liberation Sans" font-size="12.5" fill="#5e5e5e">T</text>
<line x1="573.89" y1="1166.8" x2="573.89" y2="1174.2" stroke="#333" stroke-width="1.8"/>
<text transform="translate(575.59,1185.1) rotate(-90)" text-anchor="middle" font-family="Liberation Sans" font-size="12.5" fill="#5e5e5e">T</text>
<text transform="translate(575.59,1195.7) rotate(-90)" text-anchor="middle" font-family="Liberation Sans" font-size="12.5" fill="#5e5e5e">T</text>
<line x1="585.11" y1="1166.8" x2="585.11" y2="1174.2" stroke="#333" stroke-width="1.8"/>
<text transform="translate(586.81,1185.1) rotate(-90)" text-anchor="middle" font-family="Liberation Sans" font-size="12.5" fill="#5e5e5e">A</text>
<text transform="translate(586.81,1195.7) rotate(-90)" text-anchor="middle" font-family="Liberation Sans" font-size="12.5" fill="#5e5e5e">A</text>
<line x1="596.33" y1="1166.8" x2="596.33" y2="1174.2" stroke="#333" stroke-width="1.8"/>
<text transform="translate(598.03,1185.1) rotate(-90)" text-anchor="middle" font-family="Liberation Sans" font-size="12.5" fill="#5e5e5e">C</text>
<text transform="translate(598.03,1195.7) rotate(-90)" text-anchor="middle" font-family="Liberation Sans" font-size="12.5" fill="#5e5e5e">A</text>
<line x1="607.55" y1="1166.8" x2="607.55" y2="1174.2" stroke="#333" stroke-width="1.8"/>
<text transform="translate(609.25,1185.1) rotate(-90)" text-anchor="middle" font-family="Liberation Sans" font-size="12.5" fill="#5e5e5e">G</text>
<text transform="translate(609.25,1195.7) rotate(-90)" text-anchor="middle" font-family="Liberation Sans" font-size="12.5" fill="#5e5e5e">A</text>
<line x1="618.77" y1="1166.8" x2="618.77" y2="1174.2" stroke="#333" stroke-width="1.8"/>
<text transform="translate(620.47,1185.1) rotate(-90)" text-anchor="middle" font-family="Liberation Sans" font-size="12.5" fill="#5e5e5e">T</text>
<text transform="translate(620.47,1195.7) rotate(-90)" text-anchor="middle" font-family="Liberation Sans" font-size="12.5" fill="#5e5e5e">A</text>
<line x1="629.98" y1="1166.8" x2="629.98" y2="1174.2" stroke="#333" stroke-width="1.8"/>
<text transform="translate(631.68,1185.1) rotate(-90)" text-anchor="middle" font-family="Liberation Sans" font-size="12.5" fill="#5e5e5e">A</text>
<text transform="translate(631.68,1195.7) rotate(-90)" text-anchor="middle" font-family="Liberation Sans" font-size="12.5" fill="#5e5e5e">C</text>
<line x1="641.2" y1="1166.8" x2="641.2" y2="1174.2" stroke="#333" stroke-width="1.8"/>
<text transform="translate(642.9,1185.1) rotate(-90)" text-anchor="middle" font-family="Liberation Sans" font-size="12.5" fill="#5e5e5e">C</text>
<text transform="translate(642.9,1195.7) rotate(-90)" text-anchor="middle" font-family="Liberation Sans" font-size="12.5" fill="#5e5e5e">C</text>
<line x1="652.42" y1="1166.8" x2="652.42" y2="1174.2" stroke="#333" stroke-width="1.8"/>
<text transform="translate(654.12,1185.1) rotate(-90)" text-anchor="middle" font-family="Liberation Sans" font-size="12.5" fill="#5e5e5e">G</text>
<text transform="translate(654.12,1195.7) rotate(-90)" text-anchor="middle" font-family="Liberation Sans" font-size="12.5" fill="#5e5e5e">C</text>
<line x1="663.64" y1="1166.8" x2="663.64" y2="1174.2" stroke="#333" stroke-width="1.8"/>
<text transform="translate(665.34,1185.1) rotate(-90)" text-anchor="middle" font-family="Liberation Sans" font-size="12.5" fill="#5e5e5e">T</text>
<text transform="translate(665.34,1195.7) rotate(-90)" text-anchor="middle" font-family="Liberation Sans" font-size="12.5" fill="#5e5e5e">C</text>
<line x1="674.86" y1="1166.8" x2="674.86" y2="1174.2" stroke="#333" stroke-width="1.8"/>
<text transform="translate(676.56,1185.1) rotate(-90)" text-anchor="middle" font-family="Liberation Sans" font-size="12.5" fill="#5e5e5e">A</text>
<text transform="translate(676.56,1195.7) rotate(-90)" text-anchor="middle" font-family="Liberation Sans" font-size="12.5" fill="#5e5e5e">G</text>
<line x1="686.08" y1="1166.8" x2="686.08" y2="1174.2" stroke="#333" stroke-width="1.8"/>
<text transform="translate(687.78,1185.1) rotate(-90)" text-anchor="middle" font-family="Liberation Sans" font-size="12.5" fill="#5e5e5e">C</text>
<text transform="translate(687.78,1195.7) rotate(-90)" text-anchor="middle" font-family="Liberation Sans" font-size="12.5" fill="#5e5e5e">G</text>
<line x1="697.3" y1="1166.8" x2="697.3" y2="1174.2" stroke="#333" stroke-width="1.8"/>
<text transform="translate(699,1185.1) rotate(-90)" text-anchor="middle" font-family="Liberation Sans" font-size="12.5" fill="#5e5e5e">G</text>
<text transform="translate(699,1195.7) rotate(-90)" text-anchor="middle" font-family="Liberation Sans" font-size="12.5" fill="#5e5e5e">G</text>
<line x1="708.52" y1="1166.8" x2="708.52" y2="1174.2" stroke="#333" stroke-width="1.8"/>
<text transform="translate(710.22,1185.1) rotate(-90)" text-anchor="middle" font-family="Liberation Sans" font-size="12.5" fill="#5e5e5e">T</text>
<text transform="translate(710.22,1195.7) rotate(-90)" text-anchor="middle" font-family="Liberation Sans" font-size="12.5" fill="#5e5e5e">G</text>
<line x1="719.73" y1="1166.8" x2="719.73" y2="1174.2" stroke="#333" stroke-width="1.8"/>
<text transform="translate(721.43,1185.1) rotate(-90)" text-anchor="middle" font-family="Liberation Sans" font-size="12.5" fill="#5e5e5e">A</text>
<text transform="translate(721.43,1195.7) rotate(-90)" text-anchor="middle" font-family="Liberation Sans" font-size="12.5" fill="#5e5e5e">T</text>
<line x1="730.95" y1="1166.8" x2="730.95" y2="1174.2" stroke="#333" stroke-width="1.8"/>
<text transform="translate(732.65,1185.1) rotate(-90)" text-anchor="middle" font-family="Liberation Sans" font-size="12.5" fill="#5e5e5e">C</text>
<text transform="translate(732.65,1195.7) rotate(-90)" text-anchor="middle" font-family="Liberation Sans" font-size="12.5" fill="#5e5e5e">T</text>
<line x1="742.17" y1="1166.8" x2="742.17" y2="1174.2" stroke="#333" stroke-width="1.8"/>
<text transform="translate(743.87,1185.1) rotate(-90)" text-anchor="middle" font-family="Liberation Sans" font-size="12.5" fill="#5e5e5e">G</text>
<text transform="translate(743.87,1195.7) rotate(-90)" text-anchor="middle" font-family="Liberation Sans" font-size="12.5" fill="#5e5e5e">T</text>
<line x1="753.39" y1="1166.8" x2="753.39" y2="1174.2" stroke="#333" stroke-width="1.8"/>
<text transform="translate(755.09,1185.1) rotate(-90)" text-anchor="middle" font-family="Liberation Sans" font-size="12.5" fill="#5e5e5e">T</text>
<text transform="translate(755.09,1195.7) rotate(-90)" text-anchor="middle" font-family="Liberation Sans" font-size="12.5" fill="#5e5e5e">T</text>
<line x1="764.61" y1="1166.8" x2="764.61" y2="1174.2" stroke="#333" stroke-width="1.8"/>
<text transform="translate(766.31,1185.1) rotate(-90)" text-anchor="middle" font-family="Liberation Sans" font-size="12.5" fill="#5e5e5e">A</text>
<text transform="translate(766.31,1195.7) rotate(-90)" text-anchor="middle" font-family="Liberation Sans" font-size="12.5" fill="#5e5e5e">A</text>
<line x1="775.83" y1="1166.8" x2="775.83" y2="1174.2" stroke="#333" stroke-width="1.8"/>
<text transform="translate(777.53,1185.1) rotate(-90)" text-anchor="middle" font-family="Liberation Sans" font-size="12.5" fill="#5e5e5e">C</text>
<text transform="translate(777.53,1195.7) rotate(-90)" text-anchor="middle" font-family="Liberation Sans" font-size="12.5" fill="#5e5e5e">A</text>
<line x1="787.05" y1="1166.8" x2="787.05" y2="1174.2" stroke="#333" stroke-width="1.8"/>
<text transform="translate(788.75,1185.1) rotate(-90)" text-anchor="middle" font-family="Liberation Sans" font-size="12.5" fill="#5e5e5e">G</text>
<text transform="translate(788.75,1195.7) rotate(-90)" text-anchor="middle" font-family="Liberation Sans" font-size="12.5" fill="#5e5e5e">A</text>
<line x1="798.27" y1="1166.8" x2="798.27" y2="1174.2" stroke="#333" stroke-width="1.8"/>
<text transform="translate(799.97,1185.1) rotate(-90)" text-anchor="middle" font-family="Liberation Sans" font-size="12.5" fill="#5e5e5e">T</text>
<text transform="translate(799.97,1195.7) rotate(-90)" text-anchor="middle" font-family="Liberation Sans" font-size="12.5" fill="#5e5e5e">A</text>
<line x1="809.48" y1="1166.8" x2="809.48" y2="1174.2" stroke="#333" stroke-width="1.8"/>
<text transform="translate(811.18,1185.1) rotate(-90)" text-anchor="middle" font-family="Liberation Sans" font-size="12.5" fill="#5e5e5e">A</text>
<text transform="translate(811.18,1195.7) rotate(-90)" text-anchor="middle" font-family="Liberation Sans" font-size="12.5" fill="#5e5e5e">C</text>
<line x1="820.7" y1="1166.8" x2="820.7" y2="1174.2" stroke="#333" stroke-width="1.8"/>
<text transform="translate(822.4,1185.1) rotate(-90)" text-anchor="middle" font-family="Liberation Sans" font-size="12.5" fill="#5e5e5e">C</text>
<text transform="translate(822.4,1195.7) rotate(-90)" text-anchor="middle" font-family="Liberation Sans" font-size="12.5" fill="#5e5e5e">C</text>
<line x1="831.92" y1="1166.8" x2="831.92" y2="1174.2" stroke="#333" stroke-width="1.8"/>
<text transform="translate(833.62,1185.1) rotate(-90)" text-anchor="middle" font-family="Liberation Sans" font-size="12.5" fill="#5e5e5e">G</text>
<text transform="translate(833.62,1195.7) rotate(-90)" text-anchor="middle" font-family="Liberation Sans" font-size="12.5" fill="#5e5e5e">C</text>
<line x1="843.14" y1="1166.8" x2="843.14" y2="1174.2" stroke="#333" stroke-width="1.8"/>
<text transform="translate(844.84,1185.1) rotate(-90)" text-anchor="middle" font-family="Liberation Sans" font-size="12.5" fill="#5e5e5e">T</text>
<text transform="translate(844.84,1195.7) rotate(-90)" text-anchor="middle" font-family="Liberation Sans" font-size="12.5" fill="#5e5e5e">C</text>
<line x1="854.36" y1="1166.8" x2="854.36" y2="1174.2" stroke="#333" stroke-width="1.8"/>
<text transform="translate(856.06,1185.1) rotate(-90)" text-anchor="middle" font-family="Liberation Sans" font-size="12.5" fill="#5e5e5e">A</text>
<text transform="translate(856.06,1195.7) rotate(-90)" text-anchor="middle" font-family="Liberation Sans" font-size="12.5" fill="#5e5e5e">G</text>
<line x1="865.58" y1="1166.8" x2="865.58" y2="1174.2" stroke="#333" stroke-width="1.8"/>
<text transform="translate(867.28,1185.1) rotate(-90)" text-anchor="middle" font-family="Liberation Sans" font-size="12.5" fill="#5e5e5e">C</text>
<text transform="translate(867.28,1195.7) rotate(-90)" text-anchor="middle" font-family="Liberation Sans" font-size="12.5" fill="#5e5e5e">G</text>
<line x1="876.8" y1="1166.8" x2="876.8" y2="1174.2" stroke="#333" stroke-width="1.8"/>
<text transform="translate(878.5,1185.1) rotate(-90)" text-anchor="middle" font-family="Liberation Sans" font-size="12.5" fill="#5e5e5e">G</text>
<text transform="translate(878.5,1195.7) rotate(-90)" text-anchor="middle" font-family="Liberation Sans" font-size="12.5" fill="#5e5e5e">G</text>
<line x1="888.02" y1="1166.8" x2="888.02" y2="1174.2" stroke="#333" stroke-width="1.8"/>
<text transform="translate(889.72,1185.1) rotate(-90)" text-anchor="middle" font-family="Liberation Sans" font-size="12.5" fill="#5e5e5e">T</text>
<text transform="translate(889.72,1195.7) rotate(-90)" text-anchor="middle" font-family="Liberation Sans" font-size="12.5" fill="#5e5e5e">G</text>
<line x1="899.23" y1="1166.8" x2="899.23" y2="1174.2" stroke="#333" stroke-width="1.8"/>
<text transform="translate(900.93,1185.1) rotate(-90)" text-anchor="middle" font-family="Liberation Sans" font-size="12.5" fill="#5e5e5e">A</text>
<text transform="translate(900.93,1195.7) rotate(-90)" text-anchor="middle" font-family="Liberation Sans" font-size="12.5" fill="#5e5e5e">T</text>
<line x1="910.45" y1="1166.8" x2="910.45" y2="1174.2" stroke="#333" stroke-width="1.8"/>
<text transform="translate(912.15,1185.1) rotate(-90)" text-anchor="middle" font-family="Liberation Sans" font-size="12.5" fill="#5e5e5e">C</text>
<text transform="translate(912.15,1195.7) rotate(-90)" text-anchor="middle" font-family="Liberation Sans" font-size="12.5" fill="#5e5e5e">T</text>
<line x1="921.67" y1="1166.8" x2="921.67" y2="1174.2" stroke="#333" stroke-width="1.8"/>
<text transform="translate(923.37,1185.1) rotate(-90)" text-anchor="middle" font-family="Liberation Sans" font-size="12.5" fill="#5e5e5e">G</text>
<text transform="translate(923.37,1195.7) rotate(-90)" text-anchor="middle" font-family="Liberation Sans" font-size="12.5" fill="#5e5e5e">T</text>
<line x1="932.89" y1="1166.8" x2="932.89" y2="1174.2" stroke="#333" stroke-width="1.8"/>
<text transform="translate(934.59,1185.1) rotate(-90)" text-anchor="middle" font-family="Liberation Sans" font-size="12.5" fill="#5e5e5e">T</text>
<text transform="translate(934.59,1195.7) rotate(-90)" text-anchor="middle" font-family="Liberation Sans" font-size="12.5" fill="#5e5e5e">T</text>
<line x1="944.11" y1="1166.8" x2="944.11" y2="1174.2" stroke="#333" stroke-width="1.8"/>
<text transform="translate(945.81,1185.1) rotate(-90)" text-anchor="middle" font-family="Liberation Sans" font-size="12.5" fill="#5e5e5e">A</text>
<text transform="translate(945.81,1195.7) rotate(-90)" text-anchor="middle" font-family="Liberation Sans" font-size="12.5" fill="#5e5e5e">A</text>
<line x1="955.33" y1="1166.8" x2="955.33" y2="1174.2" stroke="#333" stroke-width="1.8"/>
<text transform="translate(957.03,1185.1) rotate(-90)" text-anchor="middle" font-family="Liberation Sans" font-size="12.5" fill="#5e5e5e">C</text>
<text transform="translate(957.03,1195.7) rotate(-90)" text-anchor="middle" font-family="Liberation Sans" font-size="12.5" fill="#5e5e5e">A</text>
<line x1="966.55" y1="1166.8" x2="966.55" y2="1174.2" stroke="#333" stroke-width="1.8"/>
<text transform="translate(968.25,1185.1) rotate(-90)" text-anchor="middle" font-family="Liberation Sans" font-size="12.5" fill="#5e5e5e">G</text>
<text transform="translate(968.25,1195.7) rotate(-90)" text-anchor="middle" font-family="Liberation Sans" font-size="12.5" fill="#5e5e5e">A</text>
<line x1="977.77" y1="1166.8" x2="977.77" y2="1174.2" stroke="#333" stroke-width="1.8"/>
<text transform="translate(979.47,1185.1) rotate(-90)" text-anchor="middle" font-family="Liberation Sans" font-size="12.5" fill="#5e5e5e">T</text>
<text transform="translate(979.47,1195.7) rotate(-90)" text-anchor="middle" font-family="Liberation Sans" font-size="12.5" fill="#5e5e5e">A</text>
<line x1="988.98" y1="1166.8" x2="988.98" y2="1174.2" stroke="#333" stroke-width="1.8"/>
<text transform="translate(990.68,1185.1) rotate(-90)" text-anchor="middle" font-family="Liberation Sans" font-size="12.5" fill="#5e5e5e">A</text>
<text transform="translate(990.68,1195.7) rotate(-90)" text-anchor="middle" font-family="Liberation Sans" font-size="12.5" fill="#5e5e5e">C</text>
<line x1="1000.2" y1="1166.8" x2="1000.2" y2="1174.2" stroke="#333" stroke-width="1.8"/>
<text transform="translate(1001.9,1185.1) rotate(-90)" text-anchor="middle" font-family="Liberation Sans" font-size="12.5" fill="#5e5e5e">C</text>
<text transform="translate(1001.9,1195.7) rotate(-90)" text-anchor="middle" font-family="Liberation Sans" font-size="12.5" fill="#5e5e5e">C</text>
<line x1="1011.42" y1="1166.8" x2="1011.42" y2="1174.2" stroke="#333" stroke-width="1.8"/>
<text transform="translate(1013.12,1185.1) rotate(-90)" text-anchor="middle" font-family="Liberation Sans" font-size="12.5" fill="#5e5e5e">G</text>
<text transform="translate(1013.12,1195.7) rotate(-90)" text-anchor="middle" font-family="Liberation Sans" font-size="12.5" fill="#5e5e5e">C</text>
<line x1="1022.64" y1="1166.8" x2="1022.64" y2="1174.2" stroke="#333" stroke-width="1.8"/>
<text transform="translate(1024.34,1185.1) rotate(-90)" text-anchor="middle" font-family="Liberation Sans" font-size="12.5" fill="#5e5e5e">T</text>
<text transform="translate(1024.34,1195.7) rotate(-90)" text-anchor="middle" font-family="Liberation Sans" font-size="12.5" fill="#5e5e5e">C</text>
<line x1="1033.86" y1="1166.8" x2="1033.86" y2="1174.2" stroke="#333" stroke-width="1.8"/>
<text transform="translate(1035.56,1185.1) rotate(-90)" text-anchor="middle" font-family="Liberation Sans" font-size="12.5" fill="#5e5e5e">A</text>
<text transform="translate(1035.56,1195.7) rotate(-90)" text-anchor="middle" font-family="Liberation Sans" font-size="12.5" fill="#5e5e5e">G</text>
<line x1="1045.08" y1="1166.8" x2="1045.08" y2="1174.2" stroke="#333" stroke-width="1.8"/>
<text transform="translate(1046.78,1185.1) rotate(-90)" text-anchor="middle" font-family="Liberation Sans" font-size="12.5" fill="#5e5e5e">C</text>
<text transform="translate(1046.78,1195.7) rotate(-90)" text-anchor="middle" font-family="Liberation Sans" font-size="12.5" fill="#5e5e5e">G</text>
<line x1="1056.3" y1="1166.8" x2="1056.3" y2="1174.2" stroke="#333" stroke-width="1.8"/>
<text transform="translate(1058,1185.1) rotate(-90)" text-anchor="middle" font-family="Liberation Sans" font-size="12.5" fill="#5e5e5e">G</text>
<text transform="translate(1058,1195.7) rotate(-90)" text-anchor="middle" font-family="Liberation Sans" font-size="12.5" fill="#5e5e5e">G</text>
<line x1="1067.52" y1="1166.8" x2="1067.52" y2="1174.2" stroke="#333" stroke-width="1.8"/>
<text transform="translate(1069.22,1185.1) rotate(-90)" text-anchor="middle" font-family="Liberation Sans" font-size="12.5" fill="#5e5e5e">T</text>
<text transform="translate(1069.22,1195.7) rotate(-90)" text-anchor="middle" font-family="Liberation Sans" font-size="12.5" fill="#5e5e5e">G</text>
<line x1="1078.73" y1="1166.8" x2="1078.73" y2="1174.2" stroke="#333" stroke-width="1.8"/>
<text transform="translate(1080.43,1185.1) rotate(-90)" text-anchor="middle" font-family="Liberation Sans" font-size="12.5" fill="#5e5e5e">A</text>
<text transform="translate(1080.43,1195.7) rotate(-90)" text-anchor="middle" font-family="Liberation Sans" font-size="12.5" fill="#5e5e5e">T</text>
<line x1="1089.95" y1="1166.8" x2="1089.95" y2="1174.2" stroke="#333" stroke-width="1.8"/>
<text transform="translate(1091.65,1185.1) rotate(-90)" text-anchor="middle" font-family="Liberation Sans" font-size="12.5" fill="#5e5e5e">C</text>
<text transform="translate(1091.65,1195.7) rotate(-90)" text-anchor="middle" font-family="Liberation Sans" font-size="12.5" fill="#5e5e5e">T</text>
<line x1="1101.17" y1="1166.8" x2="1101.17" y2="1174.2" stroke="#333" stroke-width="1.8"/>
<text transform="translate(1102.87,1185.1) rotate(-90)" text-anchor="middle" font-family="Liberation Sans" font-size="12.5" fill="#5e5e5e">G</text>
<text transform="translate(1102.87,1195.7) rotate(-90)" text-anchor="middle" font-family="Liberation Sans" font-size="12.5" fill="#5e5e5e">T</text>
<line x1="1112.39" y1="1166.8" x2="1112.39" y2="1174.2" stroke="#333" stroke-width="1.8"/>
<text transform="translate(1114.09,1185.1) rotate(-90)" text-anchor="middle" font-family="Liberation Sans" font-size="12.5" fill="#5e5e5e">T</text>
<text transform="translate(1114.09,1195.7) rotate(-90)" text-anchor="middle" font-family="Liberation Sans" font-size="12.5" fill="#5e5e5e">T</text>
<line x1="1123.61" y1="1166.8" x2="1123.61" y2="1174.2" stroke="#333" stroke-width="1.8"/>
<text transform="translate(1125.31,1185.1) rotate(-90)" text-anchor="middle" font-family="Liberation Sans" font-size="12.5" fill="#5e5e5e">A</text>
<text transform="translate(1125.31,1195.7) rotate(-90)" text-anchor="middle" font-family="Liberation Sans" font-size="12.5" fill="#5e5e5e">A</text>
<line x1="1134.83" y1="1166.8" x2="1134.83" y2="1174.2" stroke="#333" stroke-width="1.8"/>
<text transform="translate(1136.53,1185.1) rotate(-90)" text-anchor="middle" font-family="Liberation Sans" font-size="12.5" fill="#5e5e5e">C</text>
<text transform="translate(1136.53,1195.7) rotate(-90)" text-anchor="middle" font-family="Liberation Sans" font-size="12.5" fill="#5e5e5e">A</text>
<line x1="1146.05" y1="1166.8" x2="1146.05" y2="1174.2" stroke="#333" stroke-width="1.8"/>
<text transform="translate(1147.75,1185.1) rotate(-90)" text-anchor="middle" font-family="Liberation Sans" font-size="12.5" fill="#5e5e5e">G</text>
<text transform="translate(1147.75,1195.7) rotate(-90)" text-anchor="middle" font-family="Liberation Sans" font-size="12.5" fill="#5e5e5e">A</text>
<line x1="1157.27" y1="1166.8" x2="1157.27" y2="1174.2" stroke="#333" stroke-width="1.8"/>
<text transform="translate(1158.97,1185.1) rotate(-90)" text-anchor="middle" font-family="Liberation Sans" font-size="12.5" fill="#5e5e5e">T</text>
<text transform="translate(1158.97,1195.7) rotate(-90)" text-anchor="middle" font-family="Liberation Sans" font-size="12.5" fill="#5e5e5e">A</text>
<line x1="1168.48" y1="1166.8" x2="1168.48" y2="1174.2" stroke="#333" stroke-width="1.8"/>
<text transform="translate(1170.18,1185.1) rotate(-90)" text-anchor="middle" font-family="Liberation Sans" font-size="12.5" fill="#5e5e5e">A</text>
<text transform="translate(1170.18,1195.7) rotate(-90)" text-anchor="middle" font-family="Liberation Sans" font-size="12.5" fill="#5e5e5e">C</text>
<line x1="1179.7" y1="1166.8" x2="1179.7" y2="1174.2" stroke="#333" stroke-width="1.8"/>
<text transform="translate(1181.4,1185.1) rotate(-90)" text-anchor="middle" font-family="Liberation Sans" font-size="12.5" fill="#5e5e5e">C</text>
<text transform="translate(1181.4,1195.7) rotate(-90)" text-anchor="middle" font-family="Liberation Sans" font-size="12.5" fill="#5e5e5e">C</text>
<line x1="1190.92" y1="1166.8" x2="1190.92" y2="1174.2" stroke="#333" stroke-width="1.8"/>
<text transform="translate(1192.62,1185.1) rotate(-90)" text-anchor="middle" font-family="Liberation Sans" font-size="12.5" fill="#5e5e5e">G</text>
<text transform="translate(1192.62,1195.7) rotate(-90)" text-anchor="middle" font-family="Liberation Sans" font-size="12.5" fill="#5e5e5e">C</text>
<line x1="1202.14" y1="1166.8" x2="1202.14" y2="1174.2" stroke="#333" stroke-width="1.8"/>
<text transform="translate(1203.84,1185.1) rotate(-90)" text-anchor="middle" font-family="Liberation Sans" font-size="12.5" fill="#5e5e5e">T</text>
<text transform="translate(1203.84,1195.7) rotate(-90)" text-anchor="middle" font-family="Liberation Sans" font-size="12.5" fill="#5e5e5e">C</text>
<line x1="1213.36" y1="1166.8" x2="1213.36" y2="1174.2" stroke="#333" stroke-width="1.8"/>
<text transform="translate(1215.06,1185.1) rotate(-90)" text-anchor="middle" font-family="Liberation Sans" font-size="12.5" fill="#5e5e5e">A</text>
<text transform="translate(1215.06,1195.7) rotate(-90)" text-anchor="middle" font-family="Liberation Sans" font-size="12.5" fill="#5e5e5e">G</text>
<line x1="1224.58" y1="1166.8" x2="1224.58" y2="1174.2" stroke="#333" stroke-width="1.8"/>
<text transform="translate(1226.28,1185.1) rotate(-90)" text-anchor="middle" font-family="Liberation Sans" font-size="12.5" fill="#5e5e5e">C</text>
<text transform="translate(1226.28,1195.7) rotate(-90)" text-anchor="middle" font-family="Liberation Sans" font-size="12.5" fill="#5e5e5e">G</text>
<line x1="1235.8" y1="1166.8" x2="1235.8" y2="1174.2" stroke="#333" stroke-width="1.8"/>
<text transform="translate(1237.5,1185.1) rotate(-90)" text-anchor="middle" font-family="Liberation Sans" font-size="12.5" fill="#5e5e5e">G</text>
<text transform="translate(1237.5,1195.7) rotate(-90)" text-anchor="middle" font-family="Liberation Sans" font-size="12.5" fill="#5e5e5e">G</text>
<line x1="1247.02" y1="1166.8" x2="1247.02" y2="1174.2" stroke="#333" stroke-width="1.8"/>
<text transform="translate(1248.72,1185.1) rotate(-90)" text-anchor="middle" font-family="Liberation Sans" font-size="12.5" fill="#5e5e5e">T</text>
<text transform="translate(1248.72,1195.7) rotate(-90)" text-anchor="middle" font-family="Liberation Sans" font-size="12.5" fill="#5e5e5e">G</text>
<line x1="1258.23" y1="1166.8" x2="1258.23" y2="1174.2" stroke="#333" stroke-width="1.8"/>
<text transform="translate(1259.93,1185.1) rotate(-90)" text-anchor="middle" font-family="Liberation Sans" font-size="12.5" fill="#5e5e5e">A</text>
<text transform="translate(1259.93,1195.7) rotate(-90)" text-anchor="middle" font-family="Liberation Sans" font-size="12.5" fill="#5e5e5e">T</text>
<line x1="1269.45" y1="1166.8" x2="1269.45" y2="1174.2" stroke="#333" stroke-width="1.8"/>
<text transform="translate(1271.15,1185.1) rotate(-90)" text-anchor="middle" font-family="Liberation Sans" font-size="12.5" fill="#5e5e5e">C</text>
<text transform="translate(1271.15,1195.7) rotate(-90)" text-anchor="middle" font-family="Liberation Sans" font-size="12.5" fill="#5e5e5e">T</text>
<line x1="1280.67" y1="1166.8" x2="1280.67" y2="1174.2" stroke="#333" stroke-width="1.8"/>
<text transform="translate(1282.37,1185.1) rotate(-90)" text-anchor="middle" font-family="Liberation Sans" font-size="12.5" fill="#5e5e5e">G</text>
<text transform="translate(1282.37,1195.7) rotate(-90)" text-anchor="middle" font-family="Liberation Sans" font-size="12.5" fill="#5e5e5e">T</text>
<line x1="1291.89" y1="1166.8" x2="1291.89" y2="1174.2" stroke="#333" stroke-width="1.8"/>
<text transform="translate(1293.59,1185.1) rotate(-90)" text-anchor="middle" font-family="Liberation Sans" font-size="12.5" fill="#5e5e5e">T</text>
<text transform="translate(1293.59,1195.7) rotate(-90)" text-anchor="middle" font-family="Liberation Sans" font-size="12.5" fill="#5e5e5e">T</text>
<text x="758.6" y="1229.3" text-anchor="middle" font-family="Liberation Sans" font-size="29" fill="#111" stroke="#111" stroke-width="0.4">context</text>
<text transform="translate(156.6,622) rotate(-90)" text-anchor="middle" font-family="Liberation Sans" font-size="29" fill="#111" stroke="#111" stroke-width="0.4">Relative contribution</text>
<text x="-2.5" y="1458" font-family="Liberation Sans" font-weight="bold" font-size="57" fill="#1c1c1c">b</text>
<rect x="275.8" y="1476.6" width="83.3" height="405.7" fill="#C0392B"/>
<line x1="275.8" y1="1477.2" x2="359.1" y2="1477.2" stroke="#a8302a" stroke-width="1.2"/>
<rect x="394" y="1505.2" width="83.4" height="377.1" fill="#C0392B"/>
<line x1="394" y1="1505.8" x2="477.4" y2="1505.8" stroke="#a8302a" stroke-width="1.2"/>
<line x1="245" y1="1483.8" x2="415.4" y2="1483.8" stroke="#5a5c6c" stroke-width="1.4" stroke-opacity="1" stroke-dasharray="10.2 5.4" stroke-dashoffset="0"/>
<line x1="275.8" y1="1483.8" x2="359.1" y2="1483.8" stroke="#86302a" stroke-width="1.7" stroke-opacity="1" stroke-dasharray="10.2 5.4" stroke-dashoffset="15.2"/>
<line x1="415.4" y1="1483.8" x2="507" y2="1483.8" stroke="#a4aad8" stroke-width="3" stroke-opacity="1" stroke-dasharray="10.2 5.4" stroke-dashoffset="14.4"/>
<line x1="246.1" y1="1358.7" x2="246.1" y2="1908.1" stroke="#8a8a8a" stroke-width="2.6"/>
<line x1="244.8" y1="1906.8" x2="506" y2="1906.8" stroke="#8a8a8a" stroke-width="2.6"/>
<line x1="242.6" y1="1882.3" x2="246.1" y2="1882.3" stroke="#333" stroke-width="1.5"/>
<text x="240.3" y="1887.2" text-anchor="end" font-family="Liberation Sans" font-size="13.8" fill="#3a3a3a" stroke="#3a3a3a" stroke-width="0.35">0.0</text>
<line x1="242.6" y1="1832.5" x2="246.1" y2="1832.5" stroke="#333" stroke-width="1.5"/>
<text x="240.3" y="1837.4" text-anchor="end" font-family="Liberation Sans" font-size="13.8" fill="#3a3a3a" stroke="#3a3a3a" stroke-width="0.35">0.1</text>
<line x1="242.6" y1="1782.7" x2="246.1" y2="1782.7" stroke="#333" stroke-width="1.5"/>
<text x="240.3" y="1787.6" text-anchor="end" font-family="Liberation Sans" font-size="13.8" fill="#3a3a3a" stroke="#3a3a3a" stroke-width="0.35">0.2</text>
<line x1="242.6" y1="1732.9" x2="246.1" y2="1732.9" stroke="#333" stroke-width="1.5"/>
<text x="240.3" y="1737.8" text-anchor="end" font-family="Liberation Sans" font-size="13.8" fill="#3a3a3a" stroke="#3a3a3a" stroke-width="0.35">0.3</text>
<line x1="242.6" y1="1683.1" x2="246.1" y2="1683.1" stroke="#333" stroke-width="1.5"/>
<text x="240.3" y="1688" text-anchor="end" font-family="Liberation Sans" font-size="13.8" fill="#3a3a3a" stroke="#3a3a3a" stroke-width="0.35">0.4</text>
<line x1="242.6" y1="1633.3" x2="246.1" y2="1633.3" stroke="#333" stroke-width="1.5"/>
<text x="240.3" y="1638.2" text-anchor="end" font-family="Liberation Sans" font-size="13.8" fill="#3a3a3a" stroke="#3a3a3a" stroke-width="0.35">0.5</text>
<line x1="242.6" y1="1583.5" x2="246.1" y2="1583.5" stroke="#333" stroke-width="1.5"/>
<text x="240.3" y="1588.4" text-anchor="end" font-family="Liberation Sans" font-size="13.8" fill="#3a3a3a" stroke="#3a3a3a" stroke-width="0.35">0.6</text>
<line x1="242.6" y1="1533.7" x2="246.1" y2="1533.7" stroke="#333" stroke-width="1.5"/>
<text x="240.3" y="1538.6" text-anchor="end" font-family="Liberation Sans" font-size="13.8" fill="#3a3a3a" stroke="#3a3a3a" stroke-width="0.35">0.7</text>
<line x1="242.6" y1="1483.9" x2="246.1" y2="1483.9" stroke="#333" stroke-width="1.5"/>
<text x="240.3" y="1488.8" text-anchor="end" font-family="Liberation Sans" font-size="13.8" fill="#3a3a3a" stroke="#3a3a3a" stroke-width="0.35">0.8</text>
<line x1="242.6" y1="1434.1" x2="246.1" y2="1434.1" stroke="#333" stroke-width="1.5"/>
<text x="240.3" y="1439" text-anchor="end" font-family="Liberation Sans" font-size="13.8" fill="#3a3a3a" stroke="#3a3a3a" stroke-width="0.35">0.9</text>
<line x1="242.6" y1="1384.3" x2="246.1" y2="1384.3" stroke="#333" stroke-width="1.5"/>
<text x="240.3" y="1389.2" text-anchor="end" font-family="Liberation Sans" font-size="13.8" fill="#3a3a3a" stroke="#3a3a3a" stroke-width="0.35">1.0</text>
<line x1="316.9" y1="1906.8" x2="316.9" y2="1910.3" stroke="#666" stroke-width="1.5"/>
<line x1="435.5" y1="1906.8" x2="435.5" y2="1910.3" stroke="#666" stroke-width="1.5"/>
<text transform="translate(178.3,1658.4) rotate(-90)" text-anchor="middle" font-family="Liberation Sans" font-size="29" fill="#111" stroke="#111" stroke-width="0.5">Signature 3 Cosine Similarity</text>
<text transform="translate(326.5,1925.5) rotate(-45)" text-anchor="end" font-family="Liberation Sans" font-size="21" fill="#111" stroke="#111" stroke-width="0.35">Brca2<tspan font-size="14.5" dy="-6.5">null</tspan><tspan dy="6.5"> SC1</tspan></text>
<text transform="translate(445,1925.5) rotate(-45)" text-anchor="end" font-family="Liberation Sans" font-size="21" fill="#111" stroke="#111" stroke-width="0.35">Brca2<tspan font-size="14.5" dy="-6.5">null</tspan><tspan dy="6.5"> SC2</tspan></text>
<text x="-2.5" y="2135" font-family="Liberation Sans" font-weight="bold" font-size="57" fill="#1c1c1c">d</text>
<rect x="274.8" y="2117.6" width="84.5" height="432.4" fill="#C0392B"/>
<line x1="274.8" y1="2118.2" x2="359.3" y2="2118.2" stroke="#a8302a" stroke-width="1.2"/>
<rect x="395.4" y="2115.9" width="84.6" height="434.1" fill="#C0392B"/>
<line x1="395.4" y1="2116.5" x2="480" y2="2116.5" stroke="#a8302a" stroke-width="1.2"/>
<line x1="245" y1="2145.4" x2="508" y2="2145.4" stroke="#6a72c0" stroke-width="2.3" stroke-opacity="0.75" stroke-dasharray="10.2 5.4" stroke-dashoffset="0"/>
<line x1="245.1" y1="2019.9" x2="245.1" y2="2576.7" stroke="#8a8a8a" stroke-width="2.6"/>
<line x1="243.8" y1="2575.4" x2="508.4" y2="2575.4" stroke="#8a8a8a" stroke-width="2.6"/>
<line x1="241.6" y1="2550" x2="245.1" y2="2550" stroke="#333" stroke-width="1.5"/>
<text x="239.3" y="2554.9" text-anchor="end" font-family="Liberation Sans" font-size="13.8" fill="#3a3a3a" stroke="#3a3a3a" stroke-width="0.35">0.0</text>
<line x1="241.6" y1="2499.52" x2="245.1" y2="2499.52" stroke="#333" stroke-width="1.5"/>
<text x="239.3" y="2504.42" text-anchor="end" font-family="Liberation Sans" font-size="13.8" fill="#3a3a3a" stroke="#3a3a3a" stroke-width="0.35">0.1</text>
<line x1="241.6" y1="2449.04" x2="245.1" y2="2449.04" stroke="#333" stroke-width="1.5"/>
<text x="239.3" y="2453.94" text-anchor="end" font-family="Liberation Sans" font-size="13.8" fill="#3a3a3a" stroke="#3a3a3a" stroke-width="0.35">0.2</text>
<line x1="241.6" y1="2398.56" x2="245.1" y2="2398.56" stroke="#333" stroke-width="1.5"/>
<text x="239.3" y="2403.46" text-anchor="end" font-family="Liberation Sans" font-size="13.8" fill="#3a3a3a" stroke="#3a3a3a" stroke-width="0.35">0.3</text>
<line x1="241.6" y1="2348.08" x2="245.1" y2="2348.08" stroke="#333" stroke-width="1.5"/>
<text x="239.3" y="2352.98" text-anchor="end" font-family="Liberation Sans" font-size="13.8" fill="#3a3a3a" stroke="#3a3a3a" stroke-width="0.35">0.4</text>
<line x1="241.6" y1="2297.6" x2="245.1" y2="2297.6" stroke="#333" stroke-width="1.5"/>
<text x="239.3" y="2302.5" text-anchor="end" font-family="Liberation Sans" font-size="13.8" fill="#3a3a3a" stroke="#3a3a3a" stroke-width="0.35">0.5</text>
<line x1="241.6" y1="2247.12" x2="245.1" y2="2247.12" stroke="#333" stroke-width="1.5"/>
<text x="239.3" y="2252.02" text-anchor="end" font-family="Liberation Sans" font-size="13.8" fill="#3a3a3a" stroke="#3a3a3a" stroke-width="0.35">0.6</text>
<line x1="241.6" y1="2196.64" x2="245.1" y2="2196.64" stroke="#333" stroke-width="1.5"/>
<text x="239.3" y="2201.54" text-anchor="end" font-family="Liberation Sans" font-size="13.8" fill="#3a3a3a" stroke="#3a3a3a" stroke-width="0.35">0.7</text>
<line x1="241.6" y1="2146.16" x2="245.1" y2="2146.16" stroke="#333" stroke-width="1.5"/>
<text x="239.3" y="2151.06" text-anchor="end" font-family="Liberation Sans" font-size="13.8" fill="#3a3a3a" stroke="#3a3a3a" stroke-width="0.35">0.8</text>
<line x1="241.6" y1="2095.68" x2="245.1" y2="2095.68" stroke="#333" stroke-width="1.5"/>
<text x="239.3" y="2100.58" text-anchor="end" font-family="Liberation Sans" font-size="13.8" fill="#3a3a3a" stroke="#3a3a3a" stroke-width="0.35">0.9</text>
<line x1="241.6" y1="2045.2" x2="245.1" y2="2045.2" stroke="#333" stroke-width="1.5"/>
<text x="239.3" y="2050.1" text-anchor="end" font-family="Liberation Sans" font-size="13.8" fill="#3a3a3a" stroke="#3a3a3a" stroke-width="0.35">1.0</text>
<line x1="316.6" y1="2575.4" x2="316.6" y2="2578.9" stroke="#666" stroke-width="1.5"/>
<line x1="437.9" y1="2575.4" x2="437.9" y2="2578.9" stroke="#666" stroke-width="1.5"/>
<text transform="translate(178.3,2315.8) rotate(-90)" text-anchor="middle" font-family="Liberation Sans" font-size="29" fill="#111" stroke="#111" stroke-width="0.5">Signature 3 Cosine Similarity</text>
<text transform="translate(325,2595) rotate(-45)" text-anchor="end" font-family="Liberation Sans" font-size="21" fill="#111" stroke="#111" stroke-width="0.35">Brca1<tspan font-size="14.5" dy="-6.5">null</tspan><tspan dy="6.5"> SC1</tspan></text>
<text transform="translate(446,2595) rotate(-45)" text-anchor="end" font-family="Liberation Sans" font-size="21" fill="#111" stroke="#111" stroke-width="0.35">Brca1<tspan font-size="14.5" dy="-6.5">null</tspan><tspan dy="6.5"> SC2</tspan></text>
<text x="801.5" y="1457.5" font-family="Liberation Sans" font-weight="bold" font-size="57" fill="#1c1c1c">c</text>
<rect x="945.9" y="1382.2" width="97.3" height="498.9" fill="#C0392B" stroke="#222" stroke-width="1.3"/>
<rect x="1083.7" y="1467.3" width="97.8" height="413.8" fill="#C0392B" stroke="#222" stroke-width="1.3"/>
<rect x="1222" y="1774" width="95.3" height="107.1" fill="#0072B5" stroke="#222" stroke-width="1.3"/>
<rect x="1358.2" y="1761.3" width="98.4" height="119.8" fill="#0072B5" stroke="#222" stroke-width="1.3"/>
<line x1="912.1" y1="1358.2" x2="912.1" y2="1907" stroke="#555" stroke-width="1.6"/>
<line x1="911.3" y1="1906.2" x2="1489.4" y2="1906.2" stroke="#666" stroke-width="2"/>
<line x1="908.6" y1="1881.1" x2="912.1" y2="1881.1" stroke="#444" stroke-width="1.3"/>
<text x="904.4" y="1887.9" text-anchor="end" font-family="Liberation Serif" font-size="17.3" fill="#333">0.000</text>
<line x1="908.6" y1="1760" x2="912.1" y2="1760" stroke="#444" stroke-width="1.3"/>
<text x="904.4" y="1766.8" text-anchor="end" font-family="Liberation Serif" font-size="17.3" fill="#333">0.025</text>
<line x1="908.6" y1="1638.9" x2="912.1" y2="1638.9" stroke="#444" stroke-width="1.3"/>
<text x="904.4" y="1645.7" text-anchor="end" font-family="Liberation Serif" font-size="17.3" fill="#333">0.050</text>
<line x1="908.6" y1="1517.8" x2="912.1" y2="1517.8" stroke="#444" stroke-width="1.3"/>
<text x="904.4" y="1524.6" text-anchor="end" font-family="Liberation Serif" font-size="17.3" fill="#333">0.075</text>
<line x1="908.6" y1="1396.7" x2="912.1" y2="1396.7" stroke="#444" stroke-width="1.3"/>
<text x="904.4" y="1403.5" text-anchor="end" font-family="Liberation Serif" font-size="17.3" fill="#333">0.100</text>
<line x1="994.6" y1="1906.2" x2="994.6" y2="1909.7" stroke="#666" stroke-width="1.5"/>
<line x1="1132.6" y1="1906.2" x2="1132.6" y2="1909.7" stroke="#666" stroke-width="1.5"/>
<line x1="1269.7" y1="1906.2" x2="1269.7" y2="1909.7" stroke="#666" stroke-width="1.5"/>
<line x1="1407.4" y1="1906.2" x2="1407.4" y2="1909.7" stroke="#666" stroke-width="1.5"/>
<text transform="translate(805.7,1820.2) rotate(-90)" font-family="Liberation Sans" font-size="30.1" fill="#111" stroke="#111" stroke-width="0.45">Proportion of deletions</text>
<text transform="translate(840.9,1819) rotate(-90)" font-family="Liberation Sans" font-size="30.1" fill="#111" stroke="#111" stroke-width="0.45">with microhomology</text>
<text transform="translate(1006,1926) rotate(-45)" text-anchor="end" font-family="Liberation Sans" font-size="21" fill="#111" stroke="#111" stroke-width="0.35">Brca2<tspan font-size="14.5" dy="-6.5">null</tspan><tspan dy="6.5"> SC1</tspan></text>
<text transform="translate(1143.5,1926) rotate(-45)" text-anchor="end" font-family="Liberation Sans" font-size="21" fill="#111" stroke="#111" stroke-width="0.35">Brca2<tspan font-size="14.5" dy="-6.5">null</tspan><tspan dy="6.5"> SC2</tspan></text>
<text transform="translate(1280,1926) rotate(-45)" text-anchor="end" font-family="Liberation Sans" font-size="21" fill="#111" stroke="#111" stroke-width="0.35">Par<tspan dx="-2.5"> </tspan>SC1</text>
<text transform="translate(1418,1926) rotate(-45)" text-anchor="end" font-family="Liberation Sans" font-size="21" fill="#111" stroke="#111" stroke-width="0.35">Par<tspan dx="-2.5"> </tspan>SC2</text>
<text transform="translate(860.2,1613.5) rotate(-90)" font-family="Liberation Serif" font-size="18" fill="#555">rop</text>
<text x="801.5" y="2135.2" font-family="Liberation Sans" font-weight="bold" font-size="57" fill="#1c1c1c">e</text>
<rect x="939.3" y="2051.2" width="98.8" height="498.4" fill="#C0392B" stroke="#222" stroke-width="1.3"/>
<rect x="1080.1" y="2096.3" width="97.9" height="453.3" fill="#C0392B" stroke="#222" stroke-width="1.3"/>
<rect x="1220" y="2315.5" width="96.7" height="234.1" fill="#0072B5" stroke="#222" stroke-width="1.3"/>
<rect x="1358.2" y="2285.3" width="99.4" height="264.3" fill="#0072B5" stroke="#222" stroke-width="1.3"/>
<line x1="906" y1="2026.6" x2="906" y2="2575.5" stroke="#555" stroke-width="1.6"/>
<line x1="905.2" y1="2574.7" x2="1491.4" y2="2574.7" stroke="#666" stroke-width="2"/>
<line x1="902.5" y1="2549.6" x2="906" y2="2549.6" stroke="#444" stroke-width="1.3"/>
<text x="898.3" y="2556.4" text-anchor="end" font-family="Liberation Serif" font-size="17.3" fill="#333">0.00</text>
<line x1="902.5" y1="2443.35" x2="906" y2="2443.35" stroke="#444" stroke-width="1.3"/>
<text x="898.3" y="2450.15" text-anchor="end" font-family="Liberation Serif" font-size="17.3" fill="#333">0.01</text>
<line x1="902.5" y1="2337.1" x2="906" y2="2337.1" stroke="#444" stroke-width="1.3"/>
<text x="898.3" y="2343.9" text-anchor="end" font-family="Liberation Serif" font-size="17.3" fill="#333">0.02</text>
<line x1="902.5" y1="2230.85" x2="906" y2="2230.85" stroke="#444" stroke-width="1.3"/>
<text x="898.3" y="2237.65" text-anchor="end" font-family="Liberation Serif" font-size="17.3" fill="#333">0.03</text>
<line x1="902.5" y1="2124.6" x2="906" y2="2124.6" stroke="#444" stroke-width="1.3"/>
<text x="898.3" y="2131.4" text-anchor="end" font-family="Liberation Serif" font-size="17.3" fill="#333">0.04</text>
<line x1="989" y1="2574.7" x2="989" y2="2578.2" stroke="#666" stroke-width="1.5"/>
<line x1="1128.8" y1="2574.7" x2="1128.8" y2="2578.2" stroke="#666" stroke-width="1.5"/>
<line x1="1268.6" y1="2574.7" x2="1268.6" y2="2578.2" stroke="#666" stroke-width="1.5"/>
<line x1="1408.4" y1="2574.7" x2="1408.4" y2="2578.2" stroke="#666" stroke-width="1.5"/>
<text transform="translate(805.7,2450.2) rotate(-90)" font-family="Liberation Sans" font-size="30.1" fill="#111" stroke="#111" stroke-width="0.45">Proportion of deletions</text>
<text transform="translate(840.9,2449) rotate(-90)" font-family="Liberation Sans" font-size="30.1" fill="#111" stroke="#111" stroke-width="0.45">with microhomology</text>
<text transform="translate(999,2594) rotate(-45)" text-anchor="end" font-family="Liberation Sans" font-size="21" fill="#111" stroke="#111" stroke-width="0.35">Brca1<tspan font-size="14.5" dy="-6.5">null</tspan><tspan dy="6.5"> SC1</tspan></text>
<text transform="translate(1139,2594) rotate(-45)" text-anchor="end" font-family="Liberation Sans" font-size="21" fill="#111" stroke="#111" stroke-width="0.35">Brca1<tspan font-size="14.5" dy="-6.5">null</tspan><tspan dy="6.5"> SC2</tspan></text>
<text transform="translate(1279,2594) rotate(-45)" text-anchor="end" font-family="Liberation Sans" font-size="21" fill="#111" stroke="#111" stroke-width="0.35">Par<tspan dx="-2.5"> </tspan>SC1</text>
<text transform="translate(1418.5,2594) rotate(-45)" text-anchor="end" font-family="Liberation Sans" font-size="21" fill="#111" stroke="#111" stroke-width="0.35">Par<tspan dx="-2.5"> </tspan>SC2</text>
</svg>
</body></html>
